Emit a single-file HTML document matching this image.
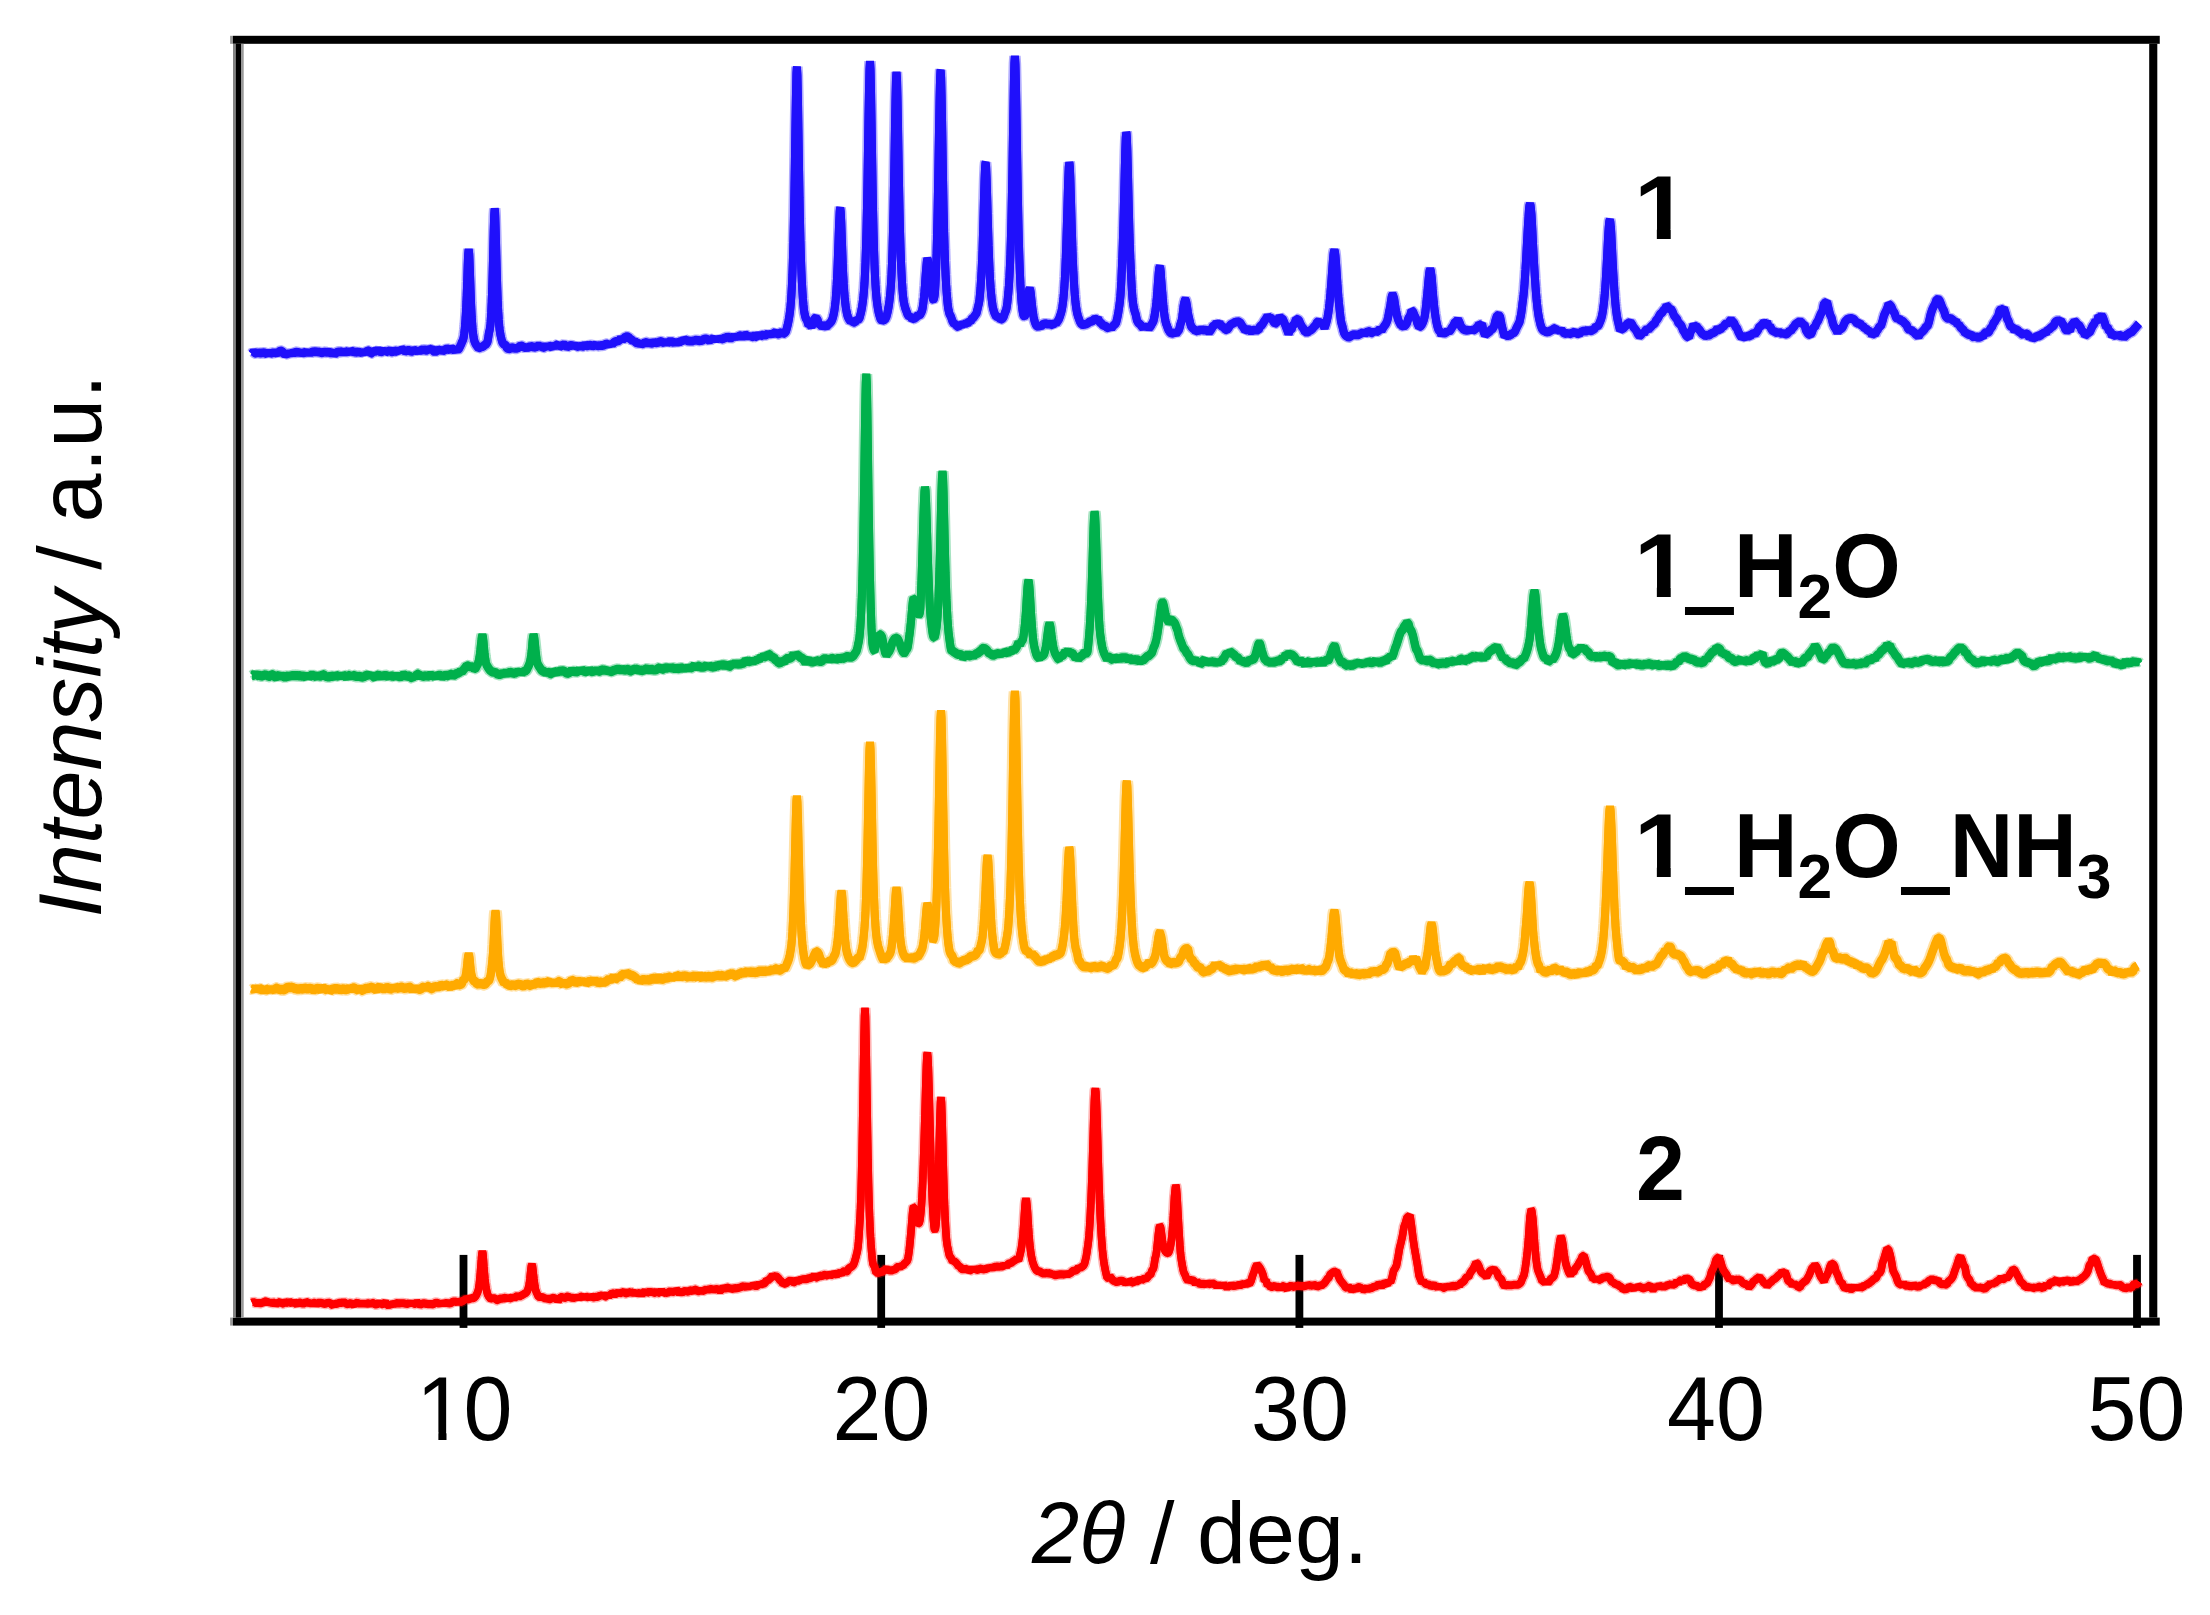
<!DOCTYPE html>
<html lang="en"><head><meta charset="utf-8"><title>XRD patterns</title>
<style>
html,body{margin:0;padding:0;background:#fff;}
body{position:relative;width:2210px;height:1615px;overflow:hidden;}
svg{position:absolute;left:0;top:0;display:block;}
.t{position:absolute;margin:0;padding:0;white-space:nowrap;line-height:1;color:#000;
   font-family:"Liberation Sans",Arial,Helvetica,sans-serif;font-weight:normal;}
.t i{font-style:italic;}
.b{font-weight:bold;}
.sub{display:inline-block;font-size:0.71em;line-height:1;vertical-align:baseline;position:relative;top:0.315em;transform-origin:0 84.52%;transform:scaleY(0.965);}
.u{display:inline-block;transform-origin:50% 94.8%;transform:translateY(0.053em) scale(0.97,2.3);}
.one{display:inline-block;position:relative;left:0.02em;clip-path:polygon(0 0,100% 0,100% 75.8%,61.6% 75.8%,61.6% 100%,45% 100%,45% 75.8%,0 75.8%);}
.bone{display:inline-block;position:relative;left:0.028em;transform-origin:66.5% 84.52%;transform:scale(1.12,1);clip-path:polygon(0 0,100% 0,100% 73.2%,66.8% 73.2%,66.8% 100%,41.5% 100%,41.5% 73.2%,0 73.2%);}
</style></head><body>
<svg width="2210" height="1615" viewBox="0 0 2210 1615">
<rect x="0" y="0" width="2210" height="1615" fill="#fff"/>
<g id="frame">
<rect x="230.1" y="35.8" width="2.8" height="8" fill="#999"/>
<rect x="232.9" y="35.8" width="1926.85" height="8" fill="#000"/>
<rect x="230.1" y="1317.6" width="2.8" height="8" fill="#999"/>
<rect x="232.9" y="1317.6" width="1926.85" height="8" fill="#000"/>
<rect x="233" y="43.8" width="2.7" height="1273.8" fill="#858585"/>
<rect x="235.7" y="43.8" width="5.3" height="1273.8" fill="#000"/>
<rect x="241" y="43.8" width="2.7" height="1273.8" fill="#999"/>
<rect x="2149.2" y="43.8" width="8.1" height="1273.8" fill="#000"/>
<rect x="459.6" y="1254.9" width="7.8" height="73" fill="#000"/><rect x="877.3" y="1254.9" width="7.8" height="73" fill="#000"/><rect x="1295.5" y="1254.9" width="7.8" height="73" fill="#000"/><rect x="1715.1" y="1254.9" width="7.8" height="73" fill="#000"/><rect x="2133.1" y="1254.9" width="7.8" height="73" fill="#000"/>
</g>
<g id="curves">
<defs><path id="c0" d="M252.0 353.6 L253.5 351.6 L255.0 353.0 L256.5 353.5 L258.0 352.3 L259.5 353.2 L261.0 353.0 L262.5 352.9 L264.0 352.7 L265.5 353.2 L267.0 353.9 L268.5 352.0 L270.0 353.7 L271.5 353.0 L273.0 353.2 L274.5 351.7 L276.0 352.9 L277.5 354.1 L279.0 351.7 L280.5 350.9 L282.0 351.1 L283.5 352.9 L285.0 354.8 L286.5 353.7 L288.0 354.1 L289.5 352.7 L291.0 353.9 L292.5 352.3 L294.0 353.1 L295.5 352.3 L297.0 352.0 L298.5 352.6 L300.0 352.1 L301.5 353.7 L303.0 352.6 L304.5 352.8 L306.0 352.1 L307.5 353.6 L309.0 351.8 L310.5 353.0 L312.0 352.1 L313.5 351.5 L315.0 351.9 L316.5 351.6 L318.0 352.1 L319.5 352.0 L321.0 352.6 L322.5 352.8 L324.0 352.1 L325.5 352.2 L327.0 352.5 L328.5 351.7 L330.0 352.8 L331.5 352.9 L333.0 352.4 L334.5 354.3 L336.0 353.0 L337.5 352.0 L339.0 351.8 L340.5 351.9 L342.0 351.6 L343.5 353.1 L345.0 351.4 L346.5 352.0 L348.0 351.5 L349.5 352.9 L351.0 350.7 L352.5 351.6 L354.0 351.8 L355.5 352.2 L357.0 352.3 L358.5 351.6 L360.0 352.7 L361.5 352.1 L363.0 354.0 L364.5 350.4 L366.0 352.3 L367.5 350.7 L369.0 350.9 L370.5 353.4 L372.0 353.1 L373.5 349.9 L375.0 351.3 L376.5 351.4 L378.0 349.5 L379.5 351.4 L381.0 351.8 L382.5 351.6 L384.0 349.5 L385.5 352.3 L387.0 351.5 L388.5 351.2 L390.0 350.5 L391.5 351.8 L393.0 352.0 L394.5 350.7 L396.0 351.2 L397.5 351.8 L399.0 349.3 L400.5 351.1 L402.0 349.2 L403.5 350.1 L405.0 351.3 L406.5 350.7 L408.0 350.4 L409.5 350.5 L411.0 351.4 L412.5 351.3 L414.0 349.9 L415.5 350.8 L417.0 350.1 L418.5 352.6 L420.0 349.7 L421.5 350.1 L423.0 350.0 L424.5 349.8 L426.0 350.3 L427.5 350.4 L429.0 348.6 L430.5 349.5 L432.0 348.7 L433.5 351.0 L435.0 352.0 L436.5 351.0 L438.0 349.9 L439.5 350.5 L441.0 349.7 L442.5 351.1 L444.0 350.3 L445.5 349.5 L447.0 348.7 L448.5 349.2 L450.0 350.0 L451.5 348.5 L453.0 349.3 L454.5 350.4 L456.0 348.9 L457.5 350.0 L459.0 348.6 L459.7 347.3 L460.2 346.2 L460.5 345.5 L460.7 345.1 L461.2 344.0 L461.7 342.8 L462.0 342.0 L462.2 341.6 L462.7 340.6 L463.2 339.2 L463.5 338.1 L463.7 337.1 L464.2 333.9 L464.7 329.6 L465.0 326.4 L465.2 324.1 L465.7 317.0 L466.2 307.7 L466.5 300.9 L466.7 295.9 L467.2 282.0 L467.7 266.2 L468.0 258.3 L468.2 254.0 L468.7 249.2 L469.2 254.0 L469.5 260.7 L469.7 266.2 L470.2 280.4 L470.7 294.9 L471.0 302.6 L471.2 307.2 L471.7 317.0 L472.2 324.6 L472.5 328.2 L472.7 330.3 L473.2 334.7 L473.7 338.0 L474.0 339.6 L474.2 340.3 L474.7 341.9 L475.2 343.1 L475.5 343.7 L475.7 344.1 L476.2 344.9 L476.7 345.6 L477.0 346.0 L477.2 346.3 L477.7 347.0 L478.5 347.9 L480.0 347.6 L481.5 346.9 L483.0 346.7 L484.5 345.0 L485.7 344.6 L486.0 344.3 L486.2 344.1 L486.7 343.3 L487.2 342.3 L487.5 341.7 L487.7 340.6 L488.2 337.8 L488.7 334.6 L489.0 332.5 L489.2 331.9 L489.7 329.8 L490.2 326.6 L490.5 324.0 L490.7 321.3 L491.2 313.1 L491.7 302.3 L492.0 294.4 L492.2 288.6 L492.7 272.0 L493.2 252.5 L493.5 239.7 L493.7 231.7 L494.2 215.2 L494.7 208.7 L495.0 211.1 L495.2 215.2 L495.7 231.7 L496.2 250.6 L496.5 262.2 L496.7 269.9 L497.2 287.0 L497.7 300.8 L498.0 307.6 L498.2 311.5 L498.7 319.6 L499.2 325.8 L499.5 328.8 L499.7 330.3 L500.2 333.5 L500.7 336.0 L501.0 337.2 L501.2 338.1 L501.7 340.0 L502.2 341.7 L502.5 342.6 L502.7 342.9 L503.2 343.6 L503.7 344.1 L504.0 344.4 L505.5 344.9 L507.0 348.1 L508.5 348.9 L510.0 348.6 L511.5 347.5 L513.0 347.8 L514.5 348.4 L516.0 348.3 L517.5 348.4 L519.0 347.0 L520.5 345.7 L522.0 346.1 L523.5 347.2 L525.0 347.4 L526.5 348.8 L528.0 346.9 L529.5 347.0 L531.0 346.6 L532.5 346.4 L534.0 347.4 L535.5 347.0 L537.0 346.5 L538.5 345.6 L540.0 346.5 L541.5 346.2 L543.0 347.6 L544.5 347.3 L546.0 345.5 L547.5 347.4 L549.0 345.8 L550.5 346.4 L552.0 347.3 L553.5 345.3 L555.0 346.3 L556.5 345.1 L558.0 344.3 L559.5 346.9 L561.0 346.0 L562.5 345.2 L564.0 344.5 L565.5 345.6 L567.0 347.1 L568.5 346.3 L570.0 345.6 L571.5 345.3 L573.0 346.0 L574.5 344.4 L576.0 347.0 L577.5 346.3 L579.0 346.9 L580.5 345.3 L582.0 346.5 L583.5 346.3 L585.0 344.3 L586.5 345.8 L588.0 345.9 L589.5 345.1 L591.0 345.3 L592.5 346.0 L594.0 345.5 L595.5 344.7 L597.0 346.1 L598.5 345.7 L600.0 345.7 L601.5 345.4 L603.0 345.6 L604.5 344.8 L606.0 344.1 L607.5 344.0 L609.0 345.5 L610.5 342.6 L612.0 344.7 L613.5 342.8 L615.0 341.8 L616.5 341.3 L618.0 340.9 L619.5 340.7 L621.0 337.5 L622.5 339.8 L624.0 338.5 L625.5 336.6 L627.0 336.7 L628.5 336.9 L630.0 339.0 L631.5 339.4 L633.0 341.6 L634.5 340.6 L636.0 342.7 L637.5 343.1 L639.0 342.7 L640.5 345.1 L642.0 343.6 L643.5 343.8 L645.0 342.2 L646.5 342.5 L648.0 343.2 L649.5 342.5 L651.0 343.5 L652.5 343.2 L654.0 342.1 L655.5 342.9 L657.0 342.6 L658.5 342.4 L660.0 341.4 L661.5 341.6 L663.0 342.4 L664.5 343.1 L666.0 341.2 L667.5 343.1 L669.0 342.0 L670.5 340.7 L672.0 342.0 L673.5 342.4 L675.0 341.8 L676.5 343.5 L678.0 341.6 L679.5 342.1 L681.0 341.2 L682.5 342.0 L684.0 338.8 L685.5 340.1 L687.0 340.5 L688.5 341.2 L690.0 340.8 L691.5 341.5 L693.0 340.8 L694.5 340.5 L696.0 340.1 L697.5 340.3 L699.0 340.8 L700.5 340.6 L702.0 340.6 L703.5 339.5 L705.0 339.0 L706.5 339.0 L708.0 339.7 L709.5 340.7 L711.0 339.3 L712.5 339.4 L714.0 337.3 L715.5 341.1 L717.0 337.6 L718.5 340.1 L720.0 337.8 L721.5 339.1 L723.0 338.8 L724.5 338.0 L726.0 337.7 L727.5 336.8 L729.0 337.5 L730.5 338.4 L732.0 337.6 L733.5 336.3 L735.0 338.0 L736.5 335.8 L738.0 336.9 L739.5 335.7 L741.0 335.7 L742.5 337.3 L744.0 335.9 L745.5 334.8 L747.0 335.6 L748.5 336.7 L750.0 335.3 L751.5 336.9 L753.0 336.6 L754.5 335.7 L756.0 336.6 L757.5 337.1 L759.0 333.5 L760.5 336.1 L762.0 335.5 L763.5 334.5 L765.0 335.2 L766.5 334.7 L768.0 333.6 L769.5 335.2 L771.0 333.6 L772.5 334.2 L774.0 333.1 L775.5 332.3 L777.0 334.3 L778.5 334.0 L780.0 333.0 L781.5 332.4 L783.0 333.8 L784.5 333.2 L786.0 331.3 L787.5 325.8 L787.9 324.1 L788.4 321.7 L788.9 318.9 L789.0 318.3 L789.4 315.8 L789.9 312.1 L790.4 307.6 L790.5 306.6 L790.9 301.9 L791.4 294.8 L791.9 285.9 L792.0 283.8 L792.4 274.7 L792.9 260.7 L793.4 243.0 L793.5 239.0 L793.9 220.7 L794.4 193.8 L794.9 162.9 L795.0 156.3 L795.4 129.8 L795.9 99.1 L796.4 75.7 L796.5 72.6 L796.9 66.8 L797.4 75.4 L797.9 98.5 L798.0 104.3 L798.4 129.4 L798.9 162.1 L799.4 192.5 L799.5 198.1 L799.9 218.5 L800.4 240.2 L800.9 257.6 L801.0 260.6 L801.4 271.6 L801.9 282.7 L802.4 291.4 L802.5 292.9 L802.9 298.7 L803.4 304.7 L803.9 309.6 L804.0 310.4 L804.4 312.8 L804.9 315.2 L805.4 317.2 L805.5 317.5 L805.9 318.5 L807.0 320.3 L808.5 325.2 L810.0 324.6 L811.5 326.9 L813.0 323.1 L814.5 318.6 L816.0 317.7 L817.5 319.7 L819.0 325.4 L820.5 324.9 L822.0 326.6 L823.5 325.5 L825.0 325.8 L826.5 326.5 L828.0 324.9 L829.5 323.5 L831.0 321.9 L831.2 321.6 L831.7 320.7 L832.2 319.5 L832.5 318.8 L832.7 318.1 L833.2 316.3 L833.7 314.2 L834.0 312.6 L834.2 311.6 L834.7 308.4 L835.2 304.5 L835.5 301.6 L835.7 299.4 L836.2 292.8 L836.7 284.6 L837.0 278.9 L837.2 274.8 L837.7 263.2 L838.2 249.9 L838.5 241.4 L838.7 235.6 L839.2 221.8 L839.7 211.8 L840.0 208.6 L840.2 208.0 L840.7 211.7 L841.2 221.6 L841.5 229.9 L841.7 235.6 L842.2 249.9 L842.7 263.4 L843.0 270.7 L843.2 274.9 L843.7 284.1 L844.2 291.5 L844.5 295.2 L844.7 297.5 L845.2 302.5 L845.7 306.4 L846.0 308.3 L846.2 309.5 L846.7 312.3 L847.2 314.6 L847.5 315.7 L847.7 316.3 L848.2 317.6 L848.7 318.6 L849.0 319.2 L849.2 319.5 L850.5 321.5 L852.0 320.8 L853.5 322.4 L855.0 322.4 L856.5 319.7 L858.0 320.0 L859.5 318.1 L861.0 312.4 L861.5 310.0 L862.0 307.2 L862.5 303.8 L863.0 300.2 L863.5 295.7 L864.0 290.1 L864.5 283.0 L865.0 273.9 L865.5 262.5 L866.0 247.8 L866.5 229.6 L867.0 207.4 L867.5 180.5 L868.0 150.0 L868.5 117.7 L869.0 91.1 L869.5 69.4 L870.0 61.4 L870.5 69.6 L871.0 91.4 L871.5 120.5 L872.0 152.2 L872.5 182.2 L873.0 208.5 L873.5 231.0 L874.0 249.5 L874.5 264.5 L875.0 276.0 L875.5 285.1 L876.0 292.2 L876.5 297.9 L877.0 302.3 L877.5 305.9 L878.0 309.1 L878.5 311.7 L879.0 314.0 L880.5 319.0 L882.0 320.8 L883.5 320.1 L885.0 319.6 L886.5 316.5 L887.5 312.5 L888.0 310.1 L888.5 307.4 L889.0 304.2 L889.5 300.3 L890.0 296.1 L890.5 290.8 L891.0 284.0 L891.5 275.0 L892.0 263.7 L892.5 249.7 L893.0 231.9 L893.5 210.4 L894.0 185.2 L894.5 157.0 L895.0 127.3 L895.5 100.1 L896.0 79.8 L896.5 72.2 L897.0 79.6 L897.5 99.6 L898.0 127.3 L898.5 156.6 L899.0 184.9 L899.5 210.0 L900.0 231.3 L900.5 248.3 L901.0 262.0 L901.5 272.9 L902.0 282.3 L902.5 289.9 L903.0 296.0 L903.5 299.9 L904.0 302.9 L904.5 305.2 L905.0 307.2 L905.5 308.8 L906.0 310.0 L907.5 314.3 L909.0 316.5 L910.5 316.3 L912.0 319.1 L913.5 318.6 L915.0 318.2 L916.5 316.9 L918.0 315.0 L918.4 315.2 L918.9 315.4 L919.4 315.4 L919.5 315.4 L919.9 314.9 L920.4 314.2 L920.9 313.2 L921.0 312.9 L921.4 312.3 L921.9 311.0 L922.4 309.2 L922.5 308.7 L922.9 306.2 L923.4 302.4 L923.9 297.8 L924.0 296.8 L924.4 292.4 L924.9 286.1 L925.4 279.0 L925.5 277.6 L925.9 272.1 L926.4 266.2 L926.9 261.0 L927.0 260.3 L927.4 258.8 L927.9 260.0 L928.4 264.1 L928.5 265.2 L928.9 270.2 L929.4 276.4 L929.9 282.2 L930.0 283.3 L930.4 286.9 L930.9 290.4 L931.4 292.8 L931.5 293.1 L931.6 293.6 L931.9 294.5 L932.1 295.0 L932.4 296.4 L932.6 297.6 L932.9 298.9 L933.0 299.3 L933.1 299.4 L933.4 299.5 L933.6 299.3 L933.9 298.7 L934.1 298.0 L934.4 296.5 L934.5 295.8 L934.6 295.4 L934.9 292.9 L935.1 289.9 L935.4 284.8 L935.6 280.9 L935.9 274.4 L936.0 272.0 L936.1 269.2 L936.4 260.2 L936.6 253.6 L937.1 234.5 L937.5 216.4 L937.6 211.7 L938.1 185.7 L938.6 156.5 L939.0 132.1 L939.1 126.1 L939.6 98.5 L940.1 77.9 L940.5 70.5 L940.6 70.1 L941.1 77.4 L941.6 97.4 L942.0 119.0 L942.1 124.9 L942.6 155.5 L943.1 184.8 L943.5 206.0 L943.6 210.7 L944.1 231.9 L944.6 249.3 L945.0 260.8 L945.1 263.5 L945.6 275.1 L946.1 284.3 L946.5 290.2 L946.6 291.7 L947.1 298.1 L947.6 303.4 L948.0 306.9 L948.1 307.6 L948.6 310.3 L949.1 312.5 L949.5 313.9 L949.6 314.2 L951.0 316.8 L952.5 321.3 L954.0 323.8 L955.5 323.9 L957.0 326.4 L958.5 326.7 L960.0 324.8 L961.5 326.0 L963.0 323.0 L964.5 324.6 L966.0 323.1 L967.5 323.8 L969.0 321.1 L970.5 321.5 L972.0 318.5 L973.5 317.6 L975.0 315.4 L976.5 313.3 L976.6 312.9 L977.1 311.0 L977.6 308.8 L978.0 306.8 L978.1 306.5 L978.6 304.6 L979.1 302.1 L979.5 299.6 L979.6 298.6 L980.1 293.4 L980.6 287.0 L981.0 280.8 L981.1 279.4 L981.6 271.0 L982.1 260.7 L982.5 250.8 L982.6 247.8 L983.1 231.5 L983.6 213.4 L984.0 198.5 L984.1 194.9 L984.6 178.8 L985.1 167.0 L985.5 162.9 L985.6 162.7 L986.1 167.1 L986.6 178.9 L987.0 192.3 L987.1 195.7 L987.6 213.2 L988.1 230.2 L988.5 242.5 L988.6 245.6 L989.1 259.5 L989.6 271.2 L990.0 279.1 L990.1 280.7 L990.6 287.9 L991.1 293.6 L991.5 297.3 L991.6 298.3 L992.1 302.4 L992.6 305.8 L993.0 308.1 L993.1 308.5 L993.6 310.4 L994.1 312.0 L994.5 313.0 L994.6 313.3 L996.0 316.4 L997.5 316.9 L999.0 317.5 L1000.5 319.4 L1002.0 319.0 L1003.5 317.1 L1005.0 312.6 L1005.9 310.6 L1006.4 308.9 L1006.5 308.5 L1006.9 305.9 L1007.4 302.1 L1007.9 297.4 L1008.0 296.3 L1008.4 292.1 L1008.9 285.6 L1009.4 277.4 L1009.5 275.6 L1009.9 267.4 L1010.4 254.9 L1010.9 239.5 L1011.0 236.0 L1011.4 220.0 L1011.9 196.7 L1012.4 169.8 L1012.5 164.0 L1012.9 140.4 L1013.4 110.2 L1013.9 82.8 L1014.0 78.1 L1014.4 63.2 L1014.9 56.2 L1015.4 63.8 L1015.5 67.0 L1015.9 84.1 L1016.4 111.7 L1016.9 142.4 L1017.0 148.6 L1017.4 172.4 L1017.9 199.6 L1018.4 223.1 L1018.5 227.3 L1018.9 243.0 L1019.4 259.5 L1019.9 273.0 L1020.0 275.3 L1020.4 283.9 L1020.7 289.4 L1020.9 292.7 L1021.2 297.2 L1021.4 299.8 L1021.5 301.0 L1021.7 303.2 L1021.9 305.2 L1022.2 307.9 L1022.4 309.5 L1022.7 311.5 L1022.9 312.7 L1023.0 313.3 L1023.2 314.2 L1023.4 315.1 L1023.7 315.8 L1023.9 316.0 L1024.2 316.1 L1024.5 315.9 L1024.7 315.9 L1025.2 315.4 L1025.7 314.2 L1026.0 313.1 L1026.2 312.1 L1026.7 309.1 L1027.2 305.3 L1027.5 302.7 L1027.7 301.0 L1028.2 296.6 L1028.7 292.5 L1029.0 290.5 L1029.2 289.5 L1029.7 288.5 L1030.2 289.8 L1030.5 291.5 L1030.7 293.0 L1031.2 297.8 L1031.7 302.6 L1032.0 305.4 L1032.2 307.1 L1032.7 311.0 L1033.2 314.3 L1033.5 316.0 L1033.7 317.1 L1034.2 319.6 L1034.7 321.5 L1035.0 322.4 L1035.2 323.0 L1035.7 324.3 L1036.2 325.2 L1036.5 325.7 L1036.7 325.8 L1037.2 326.2 L1037.7 326.4 L1038.0 326.5 L1038.2 326.4 L1038.7 326.2 L1039.5 325.8 L1041.0 326.4 L1042.5 324.7 L1044.0 323.8 L1045.5 323.6 L1047.0 324.0 L1048.5 324.1 L1050.0 324.2 L1051.5 324.6 L1053.0 325.1 L1054.5 322.4 L1056.0 323.5 L1057.5 321.5 L1059.0 319.0 L1060.3 315.3 L1060.5 314.6 L1060.8 313.7 L1061.3 311.9 L1061.8 309.7 L1062.0 308.7 L1062.3 307.0 L1062.8 303.6 L1063.3 299.5 L1063.5 297.6 L1063.8 294.3 L1064.3 287.8 L1064.8 279.9 L1065.0 276.2 L1065.3 270.0 L1065.8 258.0 L1066.3 244.0 L1066.5 237.8 L1066.8 228.3 L1067.3 211.4 L1067.8 194.2 L1068.0 187.7 L1068.3 178.0 L1068.8 166.8 L1069.3 162.7 L1069.5 163.4 L1069.8 166.9 L1070.3 178.2 L1070.8 194.9 L1071.0 201.9 L1071.3 212.5 L1071.8 229.7 L1072.3 245.5 L1072.5 251.3 L1072.8 259.1 L1073.3 270.5 L1073.8 279.9 L1074.0 283.2 L1074.3 288.0 L1074.8 294.7 L1075.3 300.3 L1075.5 302.2 L1075.8 304.8 L1076.3 308.4 L1076.8 311.3 L1077.0 312.4 L1077.3 313.7 L1077.8 315.5 L1078.3 317.1 L1078.5 317.6 L1080.0 321.9 L1081.5 324.4 L1083.0 324.7 L1084.5 324.5 L1086.0 324.1 L1087.5 323.5 L1089.0 322.3 L1090.5 321.5 L1092.0 321.4 L1093.5 319.9 L1095.0 318.6 L1096.5 319.4 L1098.0 318.2 L1099.5 322.3 L1101.0 322.9 L1102.5 324.8 L1104.0 325.7 L1105.5 326.0 L1107.0 327.6 L1108.5 328.0 L1110.0 326.4 L1111.5 328.2 L1113.0 326.1 L1114.5 324.6 L1116.0 323.2 L1117.3 317.8 L1117.5 316.8 L1117.8 315.3 L1118.3 312.6 L1118.8 309.4 L1119.0 308.0 L1119.3 306.1 L1119.8 302.2 L1120.3 297.3 L1120.5 295.1 L1120.8 290.4 L1121.3 281.3 L1121.8 270.4 L1122.0 265.5 L1122.3 258.2 L1122.8 244.2 L1123.3 227.8 L1123.5 220.6 L1123.8 209.4 L1124.3 189.5 L1124.8 169.4 L1125.0 161.9 L1125.3 150.3 L1125.8 137.3 L1126.3 132.5 L1126.5 133.2 L1126.8 137.1 L1127.3 150.0 L1127.8 168.6 L1128.0 176.3 L1128.3 188.9 L1128.8 209.4 L1129.3 228.5 L1129.5 235.4 L1129.8 244.7 L1130.3 258.3 L1130.8 269.6 L1131.0 273.6 L1131.3 279.8 L1131.8 288.8 L1132.3 296.3 L1132.5 298.9 L1132.8 301.5 L1133.3 305.1 L1133.8 307.8 L1134.0 308.7 L1134.3 310.0 L1134.8 311.8 L1135.3 313.2 L1135.5 313.6 L1137.0 320.5 L1138.5 323.2 L1140.0 324.1 L1141.5 326.2 L1143.0 327.9 L1144.5 325.8 L1146.0 327.5 L1147.5 326.2 L1149.0 328.2 L1150.5 326.5 L1150.8 326.0 L1151.3 325.1 L1151.8 324.1 L1152.0 323.7 L1152.3 323.3 L1152.8 322.4 L1153.3 321.3 L1153.5 320.8 L1153.8 319.6 L1154.3 317.3 L1154.8 314.4 L1155.0 313.1 L1155.3 311.3 L1155.8 307.7 L1156.3 303.4 L1156.5 301.4 L1156.8 298.0 L1157.3 291.6 L1157.8 284.8 L1158.0 282.0 L1158.3 278.3 L1158.8 272.2 L1159.3 268.1 L1159.5 267.2 L1159.8 266.7 L1160.3 268.3 L1160.8 272.7 L1161.0 277.4 L1161.3 280.8 L1161.8 286.9 L1162.3 293.1 L1162.5 295.5 L1162.8 299.3 L1163.3 305.1 L1163.8 310.2 L1164.0 312.0 L1164.3 314.3 L1164.8 317.6 L1165.3 320.3 L1165.5 321.3 L1165.8 322.5 L1166.3 324.2 L1166.8 325.5 L1167.0 325.9 L1167.3 326.9 L1167.8 328.3 L1168.3 329.5 L1168.5 330.0 L1168.8 330.5 L1170.0 332.3 L1171.5 333.5 L1173.0 333.2 L1174.5 332.6 L1176.0 333.7 L1176.3 333.3 L1176.8 332.7 L1177.3 332.0 L1177.5 331.6 L1177.8 331.4 L1178.3 330.8 L1178.8 330.1 L1179.0 329.8 L1179.3 328.8 L1179.8 327.0 L1180.3 324.9 L1180.5 324.0 L1180.8 323.2 L1181.3 321.7 L1181.8 319.9 L1182.0 319.0 L1182.3 316.7 L1182.8 312.6 L1183.3 308.3 L1183.5 306.5 L1183.8 304.8 L1184.3 302.7 L1184.8 300.5 L1185.0 300.0 L1185.3 299.7 L1185.8 300.4 L1186.3 302.4 L1186.5 303.5 L1186.8 305.3 L1187.3 308.6 L1187.8 311.9 L1188.0 313.2 L1188.3 314.9 L1188.8 317.4 L1189.3 319.6 L1189.5 320.3 L1189.8 321.7 L1190.3 323.7 L1190.8 325.4 L1191.0 326.1 L1191.3 326.6 L1191.8 327.3 L1192.3 327.9 L1192.5 328.1 L1192.8 328.3 L1193.3 328.6 L1193.8 328.9 L1194.0 328.9 L1194.3 329.4 L1195.5 331.2 L1197.0 330.8 L1198.5 330.4 L1200.0 330.4 L1201.5 328.8 L1203.0 330.1 L1204.5 330.2 L1206.0 330.0 L1207.5 330.6 L1209.0 332.3 L1210.5 330.5 L1212.0 328.0 L1213.5 325.4 L1215.0 325.4 L1216.5 322.5 L1218.0 324.2 L1219.5 322.9 L1221.0 325.7 L1222.5 326.5 L1224.0 327.8 L1225.5 329.6 L1227.0 329.8 L1228.5 328.0 L1230.0 325.4 L1231.5 323.9 L1233.0 323.7 L1234.5 322.4 L1236.0 322.1 L1237.5 321.4 L1239.0 321.9 L1240.5 323.1 L1242.0 325.8 L1243.5 327.6 L1245.0 330.3 L1246.5 329.8 L1248.0 329.0 L1249.5 330.2 L1251.0 331.4 L1252.5 330.2 L1254.0 330.4 L1255.5 329.8 L1257.0 330.1 L1258.5 330.1 L1260.0 326.3 L1261.5 325.5 L1263.0 323.3 L1264.5 320.8 L1266.0 318.8 L1267.5 315.9 L1269.0 317.7 L1270.5 318.0 L1272.0 318.8 L1273.5 321.7 L1275.0 323.4 L1276.5 323.1 L1278.0 319.7 L1279.5 316.7 L1281.0 318.3 L1282.5 318.6 L1284.0 321.8 L1285.5 325.6 L1287.0 329.6 L1288.5 333.9 L1290.0 330.0 L1291.5 329.6 L1293.0 324.9 L1294.5 323.9 L1296.0 319.1 L1297.5 319.3 L1299.0 320.4 L1300.5 324.1 L1302.0 326.8 L1303.5 328.7 L1305.0 332.0 L1306.5 332.1 L1308.0 332.0 L1309.5 330.7 L1311.0 330.0 L1312.5 328.8 L1314.0 326.8 L1315.5 325.6 L1317.0 322.3 L1318.5 321.4 L1320.0 322.9 L1321.5 323.0 L1323.0 324.6 L1324.5 328.0 L1325.4 325.5 L1325.9 323.9 L1326.0 323.6 L1326.4 322.2 L1326.9 320.3 L1327.4 318.0 L1327.5 317.5 L1327.9 315.4 L1328.4 312.4 L1328.9 308.9 L1329.0 308.1 L1329.4 304.4 L1329.9 299.2 L1330.4 293.4 L1330.5 292.1 L1330.9 287.5 L1331.4 281.1 L1331.9 274.4 L1332.0 273.0 L1332.4 267.4 L1332.9 261.0 L1333.4 255.0 L1333.5 254.1 L1333.9 251.4 L1334.4 250.2 L1334.9 251.7 L1335.0 252.3 L1335.4 255.6 L1335.9 261.4 L1336.4 268.9 L1336.5 270.4 L1336.9 276.5 L1337.4 283.9 L1337.9 291.0 L1338.0 292.3 L1338.4 297.2 L1338.9 302.7 L1339.4 307.5 L1339.5 308.4 L1339.9 312.3 L1340.4 316.7 L1340.9 320.6 L1341.0 321.3 L1341.4 323.0 L1341.9 324.9 L1342.4 326.4 L1342.5 326.7 L1342.9 328.5 L1343.4 330.6 L1344.0 332.8 L1345.5 335.5 L1347.0 336.4 L1348.5 337.2 L1350.0 337.0 L1351.5 334.8 L1353.0 335.0 L1354.5 334.6 L1356.0 334.8 L1357.5 335.0 L1359.0 334.5 L1360.5 333.6 L1362.0 333.1 L1363.5 331.9 L1365.0 333.7 L1366.5 332.6 L1368.0 331.2 L1369.5 331.5 L1371.0 332.9 L1372.5 332.8 L1374.0 330.4 L1375.5 332.8 L1377.0 331.4 L1378.5 330.7 L1380.0 328.6 L1381.5 330.9 L1383.0 327.9 L1383.6 327.1 L1384.1 326.4 L1384.5 325.7 L1384.6 325.6 L1385.1 325.0 L1385.6 324.3 L1386.0 323.6 L1386.1 323.4 L1386.6 322.3 L1387.1 321.0 L1387.5 319.8 L1387.6 319.4 L1388.1 317.2 L1388.6 314.6 L1389.0 312.4 L1389.1 311.9 L1389.6 309.5 L1390.1 306.8 L1390.5 304.5 L1390.6 303.8 L1391.1 300.4 L1391.6 297.3 L1392.0 295.7 L1392.1 295.4 L1392.6 294.7 L1393.1 295.3 L1393.5 296.7 L1393.6 297.1 L1394.1 298.5 L1394.6 301.9 L1395.0 304.7 L1395.1 305.3 L1395.6 308.3 L1396.1 311.1 L1396.5 313.0 L1396.6 313.5 L1397.1 315.8 L1397.6 317.8 L1398.0 319.1 L1398.1 319.4 L1398.6 320.8 L1399.1 321.9 L1399.5 322.7 L1399.6 322.9 L1400.1 323.9 L1400.6 324.7 L1401.0 325.3 L1401.1 325.3 L1401.6 325.6 L1402.5 325.9 L1404.0 326.6 L1405.5 325.1 L1407.0 322.8 L1408.5 318.1 L1410.0 316.2 L1411.5 310.7 L1413.0 311.5 L1414.5 315.5 L1416.0 318.5 L1417.5 323.7 L1419.0 326.8 L1420.5 326.4 L1421.2 325.5 L1421.7 324.7 L1422.0 324.2 L1422.2 323.8 L1422.7 322.8 L1423.2 321.6 L1423.5 320.8 L1423.7 320.2 L1424.2 318.4 L1424.7 316.3 L1425.0 314.8 L1425.2 313.3 L1425.7 309.2 L1426.2 304.5 L1426.5 301.4 L1426.7 299.5 L1427.2 294.6 L1427.7 289.2 L1428.0 285.8 L1428.2 283.6 L1428.7 278.2 L1429.2 273.5 L1429.5 271.3 L1429.7 270.3 L1430.2 269.2 L1430.7 270.5 L1431.0 272.4 L1431.2 274.0 L1431.7 277.6 L1432.2 284.0 L1432.5 288.1 L1432.7 290.5 L1433.2 296.4 L1433.7 301.9 L1434.0 304.9 L1434.2 306.7 L1434.7 311.0 L1435.2 314.6 L1435.5 316.5 L1435.7 317.8 L1436.2 320.8 L1436.7 323.3 L1437.0 324.7 L1437.2 325.5 L1437.7 327.4 L1438.2 329.0 L1438.5 329.9 L1438.7 330.1 L1439.2 330.7 L1440.0 331.3 L1441.5 335.1 L1443.0 332.6 L1444.5 333.0 L1446.0 332.9 L1447.5 330.7 L1449.0 331.9 L1450.5 330.1 L1452.0 327.5 L1453.5 325.5 L1455.0 321.9 L1456.5 321.5 L1458.0 319.3 L1459.5 322.5 L1461.0 326.6 L1462.5 328.2 L1464.0 329.9 L1465.5 330.0 L1467.0 330.4 L1468.5 329.9 L1470.0 331.5 L1471.5 328.5 L1473.0 330.3 L1474.5 329.8 L1476.0 328.4 L1477.5 327.0 L1479.0 324.4 L1480.5 324.9 L1482.0 323.8 L1483.5 331.4 L1485.0 335.1 L1486.5 333.7 L1488.0 332.7 L1489.5 331.6 L1491.0 329.6 L1492.5 328.9 L1494.0 326.5 L1495.5 320.3 L1497.0 315.6 L1498.5 315.1 L1500.0 316.5 L1501.5 324.5 L1503.0 330.8 L1504.5 336.5 L1506.0 335.3 L1507.5 335.7 L1509.0 335.3 L1510.5 335.3 L1512.0 333.2 L1513.5 333.3 L1515.0 331.4 L1516.5 327.9 L1518.0 325.0 L1519.5 322.0 L1521.0 314.8 L1521.5 311.4 L1522.0 307.5 L1522.5 303.2 L1523.0 299.6 L1523.5 295.4 L1524.0 290.6 L1524.5 284.3 L1525.0 277.3 L1525.5 269.6 L1526.0 261.1 L1526.5 252.1 L1527.0 242.7 L1527.5 233.6 L1528.0 224.9 L1528.5 217.2 L1529.0 209.3 L1529.5 205.2 L1530.0 203.8 L1530.5 205.4 L1531.0 209.7 L1531.5 214.9 L1532.0 223.9 L1532.5 233.8 L1533.0 244.1 L1533.5 253.5 L1534.0 262.6 L1534.5 271.0 L1535.0 279.1 L1535.5 286.4 L1536.0 293.0 L1536.5 298.7 L1537.0 303.8 L1537.5 308.3 L1538.0 312.1 L1538.5 315.4 L1539.0 318.3 L1540.5 324.7 L1542.0 328.9 L1543.5 330.6 L1545.0 331.2 L1546.5 332.1 L1548.0 331.9 L1549.5 331.7 L1551.0 330.1 L1552.5 330.2 L1554.0 328.6 L1555.5 328.3 L1557.0 331.1 L1558.5 329.6 L1560.0 331.5 L1561.5 330.0 L1563.0 331.9 L1564.5 333.4 L1566.0 333.5 L1567.5 332.5 L1569.0 334.3 L1570.5 333.6 L1572.0 333.0 L1573.5 332.5 L1575.0 331.6 L1576.5 333.5 L1578.0 333.5 L1579.5 334.0 L1581.0 331.8 L1582.5 331.4 L1584.0 330.8 L1585.5 331.3 L1587.0 331.0 L1588.5 329.4 L1590.0 330.9 L1591.5 330.6 L1593.0 329.7 L1594.5 328.7 L1596.0 326.2 L1597.5 326.7 L1599.0 324.4 L1600.5 320.7 L1600.8 319.9 L1601.3 318.4 L1601.8 316.5 L1602.0 315.7 L1602.3 314.2 L1602.8 311.2 L1603.3 307.8 L1603.5 306.2 L1603.8 303.8 L1604.3 299.2 L1604.8 293.7 L1605.0 291.3 L1605.3 287.4 L1605.8 280.0 L1606.3 271.7 L1606.5 268.2 L1606.8 262.6 L1607.3 252.9 L1607.8 243.1 L1608.0 239.3 L1608.3 233.8 L1608.8 226.7 L1609.3 221.6 L1609.5 220.5 L1609.8 219.9 L1610.3 221.9 L1610.8 227.2 L1611.0 229.0 L1611.3 234.2 L1611.8 244.1 L1612.3 254.5 L1612.5 258.7 L1612.8 264.5 L1613.3 273.7 L1613.8 282.0 L1614.0 285.1 L1614.3 289.6 L1614.8 296.4 L1615.3 302.3 L1615.5 304.4 L1615.8 307.3 L1616.3 311.6 L1616.8 315.2 L1617.0 316.5 L1617.3 318.2 L1617.8 320.7 L1618.3 322.7 L1618.5 323.5 L1618.8 325.0 L1620.0 330.1 L1621.5 329.0 L1623.0 328.8 L1624.5 327.1 L1626.0 325.6 L1627.5 323.2 L1629.0 323.1 L1630.5 322.1 L1632.0 324.3 L1633.5 327.3 L1635.0 328.9 L1636.5 331.0 L1638.0 334.2 L1639.5 335.8 L1641.0 334.9 L1642.5 332.1 L1644.0 333.6 L1645.5 330.4 L1647.0 328.9 L1648.5 329.6 L1650.0 327.7 L1651.5 326.2 L1653.0 324.5 L1654.5 323.9 L1656.0 320.6 L1657.5 319.1 L1659.0 316.2 L1660.5 313.6 L1662.0 312.8 L1663.5 310.3 L1665.0 309.0 L1666.5 305.8 L1668.0 306.8 L1669.5 309.0 L1671.0 309.0 L1672.5 311.6 L1674.0 315.5 L1675.5 317.5 L1677.0 319.1 L1678.5 323.1 L1680.0 324.1 L1681.5 326.1 L1683.0 330.1 L1684.5 332.3 L1686.0 335.2 L1687.5 336.7 L1689.0 337.4 L1690.5 331.8 L1692.0 329.5 L1693.5 324.6 L1695.0 326.4 L1696.5 326.2 L1698.0 328.4 L1699.5 330.0 L1701.0 332.2 L1702.5 334.0 L1704.0 334.9 L1705.5 335.8 L1707.0 335.2 L1708.5 335.2 L1710.0 334.7 L1711.5 333.1 L1713.0 333.0 L1714.5 332.3 L1716.0 330.8 L1717.5 328.1 L1719.0 329.6 L1720.5 329.9 L1722.0 326.9 L1723.5 326.9 L1725.0 324.4 L1726.5 323.2 L1728.0 324.5 L1729.5 321.3 L1731.0 319.7 L1732.5 321.5 L1734.0 322.8 L1735.5 326.6 L1737.0 328.3 L1738.5 332.2 L1740.0 335.1 L1741.5 337.4 L1743.0 336.6 L1744.5 336.7 L1746.0 337.7 L1747.5 335.5 L1749.0 335.9 L1750.5 336.1 L1752.0 334.0 L1753.5 333.4 L1755.0 334.1 L1756.5 332.2 L1758.0 329.9 L1759.5 326.4 L1761.0 326.1 L1762.5 324.1 L1764.0 322.2 L1765.5 323.6 L1767.0 321.8 L1768.5 326.8 L1770.0 326.2 L1771.5 329.2 L1773.0 331.3 L1774.5 331.3 L1776.0 332.4 L1777.5 333.1 L1779.0 331.8 L1780.5 333.0 L1782.0 333.7 L1783.5 332.7 L1785.0 334.1 L1786.5 334.0 L1788.0 332.9 L1789.5 330.8 L1791.0 330.8 L1792.5 328.3 L1794.0 326.8 L1795.5 324.1 L1797.0 323.3 L1798.5 322.2 L1800.0 321.2 L1801.5 322.4 L1803.0 324.3 L1804.5 324.3 L1806.0 330.4 L1807.5 332.9 L1809.0 334.4 L1810.5 334.8 L1812.0 332.1 L1813.5 327.4 L1815.0 326.9 L1816.5 323.0 L1818.0 320.9 L1819.5 317.1 L1821.0 313.6 L1822.5 311.0 L1824.0 303.3 L1825.5 302.7 L1827.0 301.9 L1828.5 308.3 L1830.0 314.6 L1831.5 317.6 L1833.0 324.0 L1834.5 327.2 L1836.0 329.5 L1837.5 332.8 L1839.0 329.4 L1840.5 329.1 L1842.0 328.2 L1843.5 325.4 L1845.0 321.8 L1846.5 320.3 L1848.0 318.6 L1849.5 318.7 L1851.0 318.3 L1852.5 318.7 L1854.0 319.5 L1855.5 321.4 L1857.0 323.3 L1858.5 323.4 L1860.0 323.2 L1861.5 325.8 L1863.0 325.8 L1864.5 328.5 L1866.0 328.4 L1867.5 330.7 L1869.0 330.8 L1870.5 332.2 L1872.0 334.9 L1873.5 333.8 L1875.0 334.6 L1876.5 331.2 L1878.0 329.3 L1879.5 326.5 L1881.0 325.9 L1882.5 321.0 L1884.0 315.4 L1885.5 312.1 L1887.0 309.0 L1888.5 304.2 L1890.0 305.1 L1891.5 307.1 L1893.0 310.8 L1894.5 313.0 L1896.0 317.5 L1897.5 318.8 L1899.0 317.9 L1900.5 320.9 L1902.0 320.8 L1903.5 321.6 L1905.0 323.7 L1906.5 324.8 L1908.0 328.7 L1909.5 330.0 L1911.0 329.4 L1912.5 331.6 L1914.0 332.0 L1915.5 334.2 L1917.0 335.1 L1918.5 336.6 L1920.0 333.9 L1921.5 332.3 L1923.0 331.0 L1924.5 329.4 L1926.0 326.7 L1927.5 326.2 L1929.0 321.8 L1930.5 314.9 L1932.0 310.1 L1933.5 306.7 L1935.0 304.2 L1936.5 299.8 L1938.0 299.3 L1939.5 300.3 L1941.0 304.1 L1942.5 308.2 L1944.0 310.9 L1945.5 316.0 L1947.0 318.0 L1948.5 318.5 L1950.0 317.9 L1951.5 319.2 L1953.0 320.1 L1954.5 321.4 L1956.0 320.7 L1957.5 324.8 L1959.0 324.5 L1960.5 327.2 L1962.0 328.7 L1963.5 330.1 L1965.0 333.0 L1966.5 333.0 L1968.0 334.2 L1969.5 334.7 L1971.0 334.1 L1972.5 336.6 L1974.0 337.1 L1975.5 335.9 L1977.0 337.2 L1978.5 337.6 L1980.0 337.1 L1981.5 336.2 L1983.0 336.9 L1984.5 333.0 L1986.0 332.5 L1987.5 332.8 L1989.0 331.8 L1990.5 328.4 L1992.0 327.0 L1993.5 323.2 L1995.0 321.3 L1996.5 318.5 L1998.0 316.7 L1999.5 311.0 L2001.0 308.9 L2002.5 309.5 L2004.0 308.3 L2005.5 313.0 L2007.0 318.5 L2008.5 321.1 L2010.0 325.5 L2011.5 327.1 L2013.0 326.9 L2014.5 331.3 L2016.0 329.5 L2017.5 329.9 L2019.0 332.2 L2020.5 332.4 L2022.0 334.1 L2023.5 334.9 L2025.0 333.1 L2026.5 334.0 L2028.0 334.5 L2029.5 338.0 L2031.0 336.4 L2032.5 338.4 L2034.0 337.6 L2035.5 337.9 L2037.0 335.6 L2038.5 336.0 L2040.0 336.0 L2041.5 334.2 L2043.0 333.5 L2044.5 332.5 L2046.0 333.5 L2047.5 329.6 L2049.0 329.7 L2050.5 328.1 L2052.0 326.7 L2053.5 326.1 L2055.0 322.5 L2056.5 321.0 L2058.0 320.7 L2059.5 321.1 L2061.0 320.7 L2062.5 323.9 L2064.0 325.7 L2065.5 329.6 L2067.0 330.7 L2068.5 329.7 L2070.0 330.9 L2071.5 325.2 L2073.0 323.5 L2074.5 321.3 L2076.0 322.3 L2077.5 324.7 L2079.0 325.2 L2080.5 327.5 L2082.0 331.1 L2083.5 331.5 L2085.0 335.4 L2086.5 334.6 L2088.0 332.8 L2089.5 332.6 L2091.0 329.5 L2092.5 326.1 L2094.0 324.2 L2095.5 320.9 L2097.0 321.9 L2098.5 316.1 L2100.0 317.2 L2101.5 315.2 L2103.0 317.6 L2104.5 322.0 L2106.0 326.9 L2107.5 326.9 L2109.0 331.0 L2110.5 331.4 L2112.0 336.0 L2113.5 335.0 L2115.0 335.3 L2116.5 336.7 L2118.0 334.0 L2119.5 335.5 L2121.0 336.0 L2122.5 335.8 L2124.0 337.4 L2125.5 336.1 L2127.0 334.6 L2128.5 333.8 L2130.0 332.6 L2131.5 332.3 L2133.0 330.7 L2134.5 328.7 L2136.0 327.2 L2137.5 325.3 L2139.0 323.7"/></defs>
<g fill="none" stroke="#1f10fb" stroke-linejoin="bevel" stroke-linecap="butt"><use href="#c0" stroke-width="11.5" stroke-opacity="0.35"/><use href="#c0" y="-0.4" stroke-width="8.0"/><use href="#c0" y="0.4" stroke-width="8.0"/></g>
<defs><path id="c1" d="M252.0 675.4 L253.5 675.3 L255.0 673.3 L256.5 675.7 L258.0 675.4 L259.5 675.3 L261.0 676.0 L262.5 676.1 L264.0 674.8 L265.5 675.0 L267.0 675.4 L268.5 676.4 L270.0 676.3 L271.5 674.6 L273.0 674.8 L274.5 676.5 L276.0 677.3 L277.5 675.8 L279.0 675.3 L280.5 676.9 L282.0 675.6 L283.5 676.6 L285.0 677.3 L286.5 676.5 L288.0 676.0 L289.5 676.6 L291.0 675.4 L292.5 675.8 L294.0 675.4 L295.5 675.8 L297.0 675.5 L298.5 675.8 L300.0 675.7 L301.5 676.1 L303.0 676.1 L304.5 676.3 L306.0 677.3 L307.5 674.6 L309.0 677.2 L310.5 675.8 L312.0 674.9 L313.5 675.8 L315.0 676.1 L316.5 677.0 L318.0 675.0 L319.5 676.2 L321.0 676.1 L322.5 674.5 L324.0 674.9 L325.5 676.5 L327.0 676.6 L328.5 677.0 L330.0 676.5 L331.5 676.4 L333.0 676.1 L334.5 677.1 L336.0 675.2 L337.5 675.9 L339.0 676.4 L340.5 674.6 L342.0 677.2 L343.5 675.3 L345.0 675.9 L346.5 677.9 L348.0 675.3 L349.5 675.5 L351.0 677.4 L352.5 675.0 L354.0 675.6 L355.5 676.5 L357.0 676.4 L358.5 676.5 L360.0 676.3 L361.5 677.2 L363.0 676.9 L364.5 676.5 L366.0 675.4 L367.5 675.4 L369.0 674.3 L370.5 676.6 L372.0 674.4 L373.5 676.8 L375.0 677.7 L376.5 675.1 L378.0 675.4 L379.5 675.6 L381.0 676.8 L382.5 675.2 L384.0 675.9 L385.5 675.5 L387.0 675.8 L388.5 677.2 L390.0 675.1 L391.5 676.1 L393.0 676.2 L394.5 676.8 L396.0 674.9 L397.5 677.0 L399.0 676.4 L400.5 676.8 L402.0 676.0 L403.5 674.5 L405.0 675.4 L406.5 676.7 L408.0 676.0 L409.5 675.9 L411.0 677.5 L412.5 677.9 L414.0 675.8 L415.5 677.6 L417.0 674.0 L418.5 674.0 L420.0 676.6 L421.5 675.6 L423.0 676.3 L424.5 676.2 L426.0 675.7 L427.5 676.4 L429.0 675.9 L430.5 674.3 L432.0 675.9 L433.5 675.8 L435.0 677.3 L436.5 674.6 L438.0 675.6 L439.5 675.2 L441.0 675.5 L442.5 677.1 L444.0 675.9 L445.5 675.1 L447.0 675.6 L448.5 675.9 L450.0 674.0 L451.5 674.4 L453.0 675.8 L454.5 674.9 L456.0 673.8 L457.5 673.1 L459.0 673.1 L460.5 671.1 L462.0 671.9 L463.5 669.8 L465.0 668.1 L466.5 665.7 L468.0 665.9 L469.5 666.6 L471.0 666.8 L472.5 666.9 L473.4 667.9 L473.9 668.4 L474.0 668.5 L474.4 668.4 L474.9 668.4 L475.4 668.3 L475.5 668.2 L475.9 667.6 L476.4 666.7 L476.9 665.7 L477.0 665.4 L477.4 664.8 L477.9 663.9 L478.4 662.5 L478.5 662.2 L478.9 660.5 L479.4 657.9 L479.9 654.4 L480.0 653.6 L480.4 650.1 L480.9 645.0 L481.4 640.8 L481.5 639.8 L481.9 636.6 L482.4 635.0 L482.9 636.8 L483.0 637.5 L483.4 641.2 L483.9 647.1 L484.4 652.2 L484.5 653.2 L484.9 656.6 L485.4 660.1 L485.9 662.8 L486.0 663.2 L486.4 664.5 L486.9 665.7 L487.4 666.4 L487.5 666.5 L487.9 667.3 L488.4 668.1 L488.9 668.8 L489.0 668.9 L489.4 669.5 L489.9 670.2 L490.4 670.9 L490.5 671.1 L490.9 671.2 L491.4 671.4 L492.0 671.6 L493.5 672.5 L495.0 672.0 L496.5 673.3 L498.0 674.5 L499.5 674.3 L501.0 674.4 L502.5 673.1 L504.0 673.8 L505.5 672.7 L507.0 673.8 L508.5 672.6 L510.0 672.5 L511.5 672.3 L513.0 673.5 L514.5 673.0 L516.0 672.9 L517.5 671.6 L519.0 672.6 L520.5 671.0 L522.0 673.3 L523.5 671.5 L524.6 671.3 L525.0 671.2 L525.1 671.2 L525.6 670.8 L526.1 670.4 L526.5 670.0 L526.6 669.9 L527.1 669.0 L527.6 667.9 L528.0 667.0 L528.1 666.9 L528.6 666.0 L529.1 664.8 L529.5 663.6 L529.6 663.3 L530.1 661.5 L530.6 659.1 L531.0 656.6 L531.1 655.9 L531.6 651.9 L532.1 647.2 L532.5 641.9 L532.6 640.9 L533.1 636.7 L533.6 635.0 L534.0 636.1 L534.1 636.7 L534.6 640.9 L535.1 645.4 L535.5 649.7 L535.6 650.7 L536.1 655.4 L536.6 659.2 L537.0 661.7 L537.1 662.1 L537.6 663.8 L538.1 664.9 L538.5 665.5 L538.6 665.8 L539.1 666.7 L539.6 667.4 L540.0 667.9 L540.1 668.0 L540.6 668.9 L541.1 669.7 L541.5 670.2 L541.6 670.3 L542.1 670.7 L542.6 671.0 L543.0 671.2 L544.5 671.4 L546.0 673.4 L547.5 672.0 L549.0 672.6 L550.5 673.7 L552.0 673.9 L553.5 670.9 L555.0 672.0 L556.5 673.3 L558.0 671.0 L559.5 671.4 L561.0 671.0 L562.5 670.9 L564.0 671.1 L565.5 672.2 L567.0 673.2 L568.5 673.3 L570.0 671.9 L571.5 670.1 L573.0 671.8 L574.5 671.4 L576.0 672.0 L577.5 671.5 L579.0 670.0 L580.5 671.9 L582.0 669.6 L583.5 670.8 L585.0 671.6 L586.5 671.6 L588.0 672.6 L589.5 669.0 L591.0 671.4 L592.5 671.6 L594.0 670.7 L595.5 671.5 L597.0 669.8 L598.5 671.4 L600.0 671.2 L601.5 669.8 L603.0 670.0 L604.5 670.4 L606.0 669.9 L607.5 671.4 L609.0 670.6 L610.5 671.6 L612.0 671.4 L613.5 670.3 L615.0 670.1 L616.5 669.3 L618.0 669.4 L619.5 669.4 L621.0 670.3 L622.5 669.2 L624.0 670.0 L625.5 670.1 L627.0 669.4 L628.5 669.6 L630.0 671.0 L631.5 671.1 L633.0 668.9 L634.5 669.4 L636.0 669.2 L637.5 669.3 L639.0 670.8 L640.5 670.0 L642.0 670.5 L643.5 670.9 L645.0 668.9 L646.5 669.0 L648.0 669.2 L649.5 670.0 L651.0 669.0 L652.5 669.6 L654.0 670.0 L655.5 670.0 L657.0 669.3 L658.5 668.1 L660.0 667.4 L661.5 669.7 L663.0 669.1 L664.5 667.8 L666.0 668.1 L667.5 668.1 L669.0 667.0 L670.5 668.7 L672.0 667.7 L673.5 668.1 L675.0 668.9 L676.5 668.1 L678.0 668.6 L679.5 668.4 L681.0 668.0 L682.5 667.9 L684.0 669.5 L685.5 667.6 L687.0 669.1 L688.5 666.8 L690.0 668.2 L691.5 667.6 L693.0 666.7 L694.5 664.9 L696.0 668.6 L697.5 666.1 L699.0 666.2 L700.5 667.1 L702.0 667.0 L703.5 667.1 L705.0 666.5 L706.5 665.3 L708.0 667.4 L709.5 665.7 L711.0 666.7 L712.5 666.9 L714.0 667.4 L715.5 666.0 L717.0 665.9 L718.5 665.9 L720.0 664.3 L721.5 665.2 L723.0 664.9 L724.5 664.7 L726.0 665.6 L727.5 665.0 L729.0 666.5 L730.5 666.2 L732.0 662.9 L733.5 664.5 L735.0 663.3 L736.5 664.5 L738.0 663.9 L739.5 664.4 L741.0 663.6 L742.5 663.8 L744.0 662.6 L745.5 660.4 L747.0 661.4 L748.5 661.4 L750.0 661.6 L751.5 660.5 L753.0 662.3 L754.5 660.1 L756.0 660.9 L757.5 658.8 L759.0 660.1 L760.5 656.9 L762.0 658.0 L763.5 655.7 L765.0 656.7 L766.5 657.2 L768.0 654.0 L769.5 654.7 L771.0 656.6 L772.5 657.3 L774.0 657.3 L775.5 660.6 L777.0 660.7 L778.5 662.9 L780.0 663.0 L781.5 661.8 L783.0 661.4 L784.5 662.2 L786.0 658.7 L787.5 658.6 L789.0 658.5 L790.5 657.9 L792.0 656.8 L793.5 653.8 L795.0 656.4 L796.5 654.4 L798.0 655.4 L799.5 656.7 L801.0 657.8 L802.5 658.4 L804.0 660.3 L805.5 663.1 L807.0 660.6 L808.5 659.5 L810.0 662.0 L811.5 661.7 L813.0 661.9 L814.5 662.6 L816.0 660.2 L817.5 660.9 L819.0 661.0 L820.5 661.5 L822.0 661.1 L823.5 659.2 L825.0 658.5 L826.5 659.3 L828.0 657.9 L829.5 660.1 L831.0 658.6 L832.5 658.6 L834.0 658.1 L835.5 660.2 L837.0 658.9 L838.5 658.2 L840.0 658.9 L841.5 658.0 L843.0 658.3 L844.5 658.5 L846.0 656.6 L847.5 656.6 L849.0 656.8 L850.5 657.6 L852.0 656.9 L853.5 655.6 L855.0 653.3 L856.5 651.2 L857.3 648.3 L857.8 646.0 L858.0 645.0 L858.3 643.8 L858.8 641.4 L859.3 638.2 L859.5 636.7 L859.8 633.6 L860.3 627.5 L860.8 619.6 L861.0 615.9 L861.3 609.8 L861.8 597.4 L862.3 581.6 L862.5 574.2 L862.8 561.6 L863.3 536.9 L863.8 507.5 L864.0 494.6 L864.3 474.2 L864.8 439.0 L865.3 406.8 L865.5 395.7 L865.8 382.7 L866.3 374.2 L866.8 384.1 L867.0 392.7 L867.3 409.5 L867.8 443.8 L868.3 480.9 L868.5 495.4 L868.8 515.4 L869.3 545.4 L869.8 570.7 L870.0 579.6 L870.3 591.8 L870.8 609.1 L871.3 623.0 L871.5 627.8 L871.8 633.9 L872.3 642.5 L872.8 646.1 L873.0 646.9 L873.3 648.2 L873.8 649.8 L874.3 650.6 L874.5 650.7 L874.8 649.8 L875.3 648.0 L876.0 644.9 L877.5 642.0 L879.0 634.4 L880.5 634.7 L882.0 637.0 L883.5 644.2 L885.0 652.3 L886.5 655.0 L888.0 652.9 L889.5 650.8 L891.0 647.3 L892.5 642.0 L894.0 639.6 L895.5 638.0 L897.0 638.2 L898.5 640.2 L900.0 644.0 L901.5 648.7 L903.0 652.1 L904.3 652.9 L904.5 652.8 L904.8 652.3 L905.3 651.4 L905.8 650.3 L906.0 649.9 L906.3 649.6 L906.8 649.1 L907.3 648.3 L907.5 648.0 L907.8 646.4 L908.3 643.3 L908.8 639.6 L909.0 638.0 L909.3 636.0 L909.8 632.3 L910.3 628.0 L910.5 626.0 L910.8 623.1 L911.3 617.9 L911.8 612.3 L912.0 610.1 L912.3 606.5 L912.8 601.9 L913.3 599.2 L913.5 598.8 L913.8 598.9 L914.3 600.6 L914.8 602.4 L915.0 603.5 L915.3 605.5 L915.8 608.4 L916.0 609.3 L916.3 610.4 L916.5 610.9 L916.8 611.2 L917.0 611.1 L917.3 610.7 L917.5 610.1 L917.8 610.1 L918.0 611.4 L918.3 612.8 L918.5 613.6 L918.8 614.3 L919.0 614.5 L919.3 614.3 L919.5 613.9 L919.8 612.5 L920.0 611.3 L920.3 608.9 L920.5 604.7 L920.8 598.0 L921.0 593.2 L921.3 585.7 L921.5 580.3 L921.8 571.8 L922.0 565.7 L922.3 556.1 L922.5 549.5 L923.0 532.4 L923.5 515.8 L924.0 501.1 L924.5 491.1 L925.0 487.3 L925.5 490.5 L926.0 500.0 L926.5 514.6 L927.0 531.1 L927.5 547.2 L928.0 562.5 L928.5 576.3 L929.0 589.1 L929.5 600.0 L930.0 609.1 L930.5 615.6 L931.0 620.7 L931.5 624.6 L932.0 629.1 L932.5 632.6 L933.0 635.3 L933.5 636.7 L934.0 637.3 L934.5 637.4 L935.0 636.0 L935.5 633.8 L936.0 630.8 L936.5 627.6 L937.0 623.2 L937.5 617.3 L938.0 608.5 L938.5 597.5 L939.0 584.0 L939.5 569.1 L940.0 551.4 L940.5 531.5 L941.0 509.9 L941.5 490.9 L942.0 476.7 L942.5 471.5 L943.0 477.0 L943.5 491.5 L944.0 511.7 L944.5 533.3 L945.0 554.0 L945.5 571.9 L946.0 587.1 L946.5 599.6 L947.0 610.4 L947.5 619.2 L948.0 626.2 L948.5 631.8 L949.0 636.3 L949.5 639.9 L950.0 643.6 L950.5 646.9 L951.0 649.7 L951.5 650.6 L952.5 650.8 L954.0 652.0 L955.5 652.9 L957.0 654.1 L958.5 654.5 L960.0 654.1 L961.5 655.1 L963.0 657.4 L964.5 656.3 L966.0 655.7 L967.5 654.7 L969.0 655.8 L970.5 655.7 L972.0 654.9 L973.5 656.1 L975.0 654.5 L976.5 653.6 L978.0 653.3 L979.5 651.5 L981.0 651.0 L982.5 648.5 L984.0 648.1 L985.5 649.1 L987.0 650.4 L988.5 652.7 L990.0 653.4 L991.5 654.5 L993.0 655.2 L994.5 655.2 L996.0 653.3 L997.5 653.9 L999.0 653.4 L1000.5 654.5 L1002.0 652.8 L1003.5 653.9 L1005.0 651.5 L1006.5 652.3 L1008.0 653.0 L1009.5 651.4 L1011.0 652.2 L1012.5 648.8 L1014.0 650.0 L1015.5 648.8 L1017.0 646.4 L1018.5 642.5 L1019.5 643.8 L1020.0 644.6 L1020.5 643.6 L1021.0 642.5 L1021.5 641.0 L1022.0 640.7 L1022.5 640.1 L1023.0 639.1 L1023.5 636.2 L1024.0 632.7 L1024.5 628.4 L1025.0 623.6 L1025.5 617.8 L1026.0 611.0 L1026.5 602.9 L1027.0 594.5 L1027.5 587.2 L1028.0 582.2 L1028.5 580.5 L1029.0 582.8 L1029.5 588.5 L1030.0 595.6 L1030.5 604.4 L1031.0 612.8 L1031.5 620.4 L1032.0 627.0 L1032.5 633.0 L1033.0 638.1 L1033.5 642.3 L1034.0 645.2 L1034.5 647.6 L1035.0 649.5 L1035.5 651.6 L1036.0 653.3 L1036.5 654.8 L1037.0 655.9 L1037.5 656.6 L1038.0 657.1 L1039.5 658.6 L1040.5 656.6 L1041.0 655.4 L1041.5 655.6 L1042.0 655.8 L1042.5 655.8 L1043.0 655.4 L1043.5 654.9 L1044.0 654.2 L1044.5 652.8 L1045.0 651.0 L1045.5 648.9 L1046.0 645.9 L1046.5 642.4 L1047.0 638.5 L1047.5 634.6 L1048.0 630.7 L1048.5 627.4 L1049.0 624.8 L1049.5 623.8 L1050.0 624.8 L1050.5 627.4 L1051.0 631.1 L1051.5 635.2 L1052.0 639.0 L1052.5 642.4 L1053.0 645.3 L1053.5 647.9 L1054.0 650.1 L1054.5 651.9 L1055.0 653.2 L1055.5 654.2 L1056.0 655.0 L1056.5 656.0 L1057.0 656.8 L1057.5 657.5 L1058.0 658.5 L1058.5 658.9 L1059.0 659.1 L1060.5 655.7 L1062.0 655.8 L1063.5 654.9 L1065.0 651.5 L1066.5 652.7 L1068.0 650.4 L1069.5 653.2 L1071.0 653.0 L1072.5 653.2 L1074.0 655.7 L1075.5 658.2 L1077.0 656.9 L1078.5 658.6 L1080.0 657.0 L1081.5 655.8 L1083.0 655.1 L1084.5 651.8 L1085.6 652.7 L1086.0 653.0 L1086.1 653.1 L1086.6 653.1 L1087.1 652.8 L1087.5 651.5 L1087.6 650.7 L1088.1 646.4 L1088.6 641.4 L1089.0 636.7 L1089.1 635.5 L1089.6 629.3 L1090.1 621.6 L1090.5 614.4 L1090.6 612.4 L1091.1 601.4 L1091.6 588.5 L1092.0 576.9 L1092.1 573.9 L1092.6 558.4 L1093.1 542.7 L1093.5 529.1 L1093.6 526.4 L1094.1 515.9 L1094.6 511.9 L1095.0 514.2 L1095.1 515.5 L1095.6 525.6 L1096.1 539.6 L1096.5 552.3 L1096.6 555.6 L1097.1 571.7 L1097.6 586.5 L1098.0 597.0 L1098.1 599.5 L1098.6 610.9 L1099.1 620.4 L1099.5 626.8 L1099.6 628.0 L1100.1 633.3 L1100.6 637.3 L1101.0 639.9 L1101.1 640.6 L1101.6 643.9 L1102.1 646.5 L1102.5 648.3 L1102.6 648.7 L1103.1 650.5 L1103.6 652.0 L1104.0 653.1 L1105.5 656.3 L1107.0 659.2 L1108.5 657.1 L1110.0 657.3 L1111.5 659.2 L1113.0 659.7 L1114.5 657.1 L1116.0 658.4 L1117.5 659.6 L1119.0 657.9 L1120.5 658.5 L1122.0 657.8 L1123.5 657.8 L1125.0 657.8 L1126.5 658.1 L1128.0 659.4 L1129.5 658.2 L1131.0 659.3 L1132.5 660.5 L1134.0 659.4 L1135.5 659.9 L1137.0 659.9 L1138.5 660.0 L1140.0 662.2 L1141.5 660.1 L1143.0 660.7 L1144.5 658.9 L1146.0 657.5 L1147.5 656.2 L1149.0 655.6 L1150.5 654.1 L1152.0 652.6 L1153.2 648.8 L1153.5 647.8 L1153.7 647.4 L1154.2 646.3 L1154.7 645.2 L1155.0 644.4 L1155.2 643.8 L1155.7 642.0 L1156.2 640.0 L1156.5 638.7 L1156.7 637.7 L1157.2 634.9 L1157.7 631.8 L1158.0 629.8 L1158.2 628.5 L1158.7 625.0 L1159.2 621.2 L1159.5 618.8 L1159.7 617.3 L1160.2 613.6 L1160.7 610.0 L1161.0 608.1 L1161.2 606.3 L1161.7 603.9 L1162.2 602.6 L1162.5 602.4 L1162.7 602.5 L1163.2 603.5 L1163.7 605.5 L1164.0 606.7 L1164.2 607.7 L1164.7 610.3 L1165.2 612.8 L1165.5 614.2 L1165.7 615.0 L1166.0 616.1 L1166.2 616.8 L1166.5 617.7 L1166.7 618.2 L1167.0 618.9 L1167.2 619.5 L1167.5 620.2 L1167.7 620.6 L1168.0 621.1 L1168.2 621.3 L1168.5 621.6 L1168.7 621.5 L1169.0 621.2 L1169.2 621.0 L1169.5 620.7 L1169.7 620.4 L1170.0 620.1 L1170.2 620.1 L1170.5 620.1 L1170.7 620.0 L1171.0 619.9 L1171.2 619.8 L1171.5 619.7 L1172.0 620.2 L1172.5 620.6 L1173.0 621.2 L1173.5 621.7 L1174.0 622.1 L1174.5 622.8 L1175.0 623.7 L1175.5 624.8 L1176.0 626.5 L1176.5 627.6 L1177.0 628.9 L1177.5 630.1 L1178.0 632.3 L1178.5 634.4 L1179.0 636.4 L1179.5 637.9 L1180.0 639.3 L1180.5 640.7 L1181.0 642.0 L1181.5 643.2 L1182.0 644.4 L1182.5 645.8 L1183.0 647.1 L1183.5 648.4 L1185.0 649.5 L1186.5 652.8 L1188.0 654.2 L1189.5 657.3 L1191.0 659.5 L1192.5 660.3 L1194.0 661.0 L1195.5 660.1 L1197.0 661.8 L1198.5 660.6 L1200.0 664.0 L1201.5 663.1 L1203.0 660.8 L1204.5 659.8 L1206.0 663.3 L1207.5 661.4 L1209.0 662.7 L1210.5 661.0 L1212.0 662.2 L1213.5 661.6 L1215.0 662.6 L1216.5 661.8 L1218.0 663.4 L1219.5 661.3 L1221.0 662.2 L1222.5 659.5 L1224.0 658.5 L1225.5 655.1 L1227.0 653.4 L1228.5 654.5 L1230.0 651.9 L1231.5 652.7 L1233.0 654.1 L1234.5 655.0 L1236.0 657.4 L1237.5 657.4 L1239.0 659.0 L1240.5 661.9 L1242.0 660.5 L1243.5 662.0 L1245.0 662.0 L1246.5 662.7 L1248.0 661.7 L1249.5 659.5 L1250.3 659.8 L1250.8 659.9 L1251.0 660.0 L1251.3 659.9 L1251.8 659.6 L1252.3 659.3 L1252.5 659.2 L1252.8 659.2 L1253.3 659.1 L1253.8 658.9 L1254.0 658.8 L1254.3 658.1 L1254.8 656.8 L1255.3 655.3 L1255.5 654.7 L1255.8 653.7 L1256.3 651.8 L1256.8 649.8 L1257.0 648.9 L1257.3 648.0 L1257.8 646.4 L1258.3 644.7 L1258.5 644.2 L1258.8 643.6 L1259.3 643.2 L1259.8 643.6 L1260.0 644.0 L1260.3 644.8 L1260.8 646.6 L1261.3 648.7 L1261.5 649.6 L1261.8 650.7 L1262.3 652.4 L1262.8 653.9 L1263.0 654.4 L1263.3 655.4 L1263.8 657.0 L1264.3 658.3 L1264.5 658.8 L1264.8 659.1 L1265.3 659.6 L1265.8 660.0 L1266.0 660.1 L1266.3 660.5 L1266.8 661.1 L1267.3 661.7 L1267.5 661.9 L1267.8 661.8 L1268.3 661.8 L1269.0 661.7 L1270.5 662.7 L1272.0 661.9 L1273.5 662.5 L1275.0 661.9 L1276.5 661.4 L1278.0 660.9 L1279.5 660.8 L1281.0 660.6 L1282.5 656.9 L1284.0 658.9 L1285.5 654.4 L1287.0 655.1 L1288.5 653.7 L1290.0 654.7 L1291.5 654.6 L1293.0 655.7 L1294.5 657.1 L1296.0 659.3 L1297.5 661.9 L1299.0 661.4 L1300.5 660.2 L1302.0 661.7 L1303.5 662.5 L1305.0 665.2 L1306.5 661.5 L1308.0 661.9 L1309.5 662.8 L1311.0 662.6 L1312.5 661.2 L1314.0 663.2 L1315.5 661.2 L1317.0 662.1 L1318.5 663.5 L1320.0 661.0 L1321.5 661.7 L1323.0 663.4 L1324.5 661.4 L1325.4 660.8 L1325.9 660.4 L1326.0 660.3 L1326.4 660.2 L1326.9 660.1 L1327.4 659.9 L1327.5 659.8 L1327.9 659.8 L1328.4 659.8 L1328.9 659.6 L1329.0 659.5 L1329.4 658.3 L1329.9 656.7 L1330.4 654.9 L1330.5 654.5 L1330.9 653.7 L1331.4 652.6 L1331.9 651.3 L1332.0 651.1 L1332.4 649.5 L1332.9 647.7 L1333.4 647.3 L1333.5 647.1 L1333.9 646.4 L1334.4 646.1 L1334.9 646.5 L1335.0 646.7 L1335.4 647.5 L1335.9 649.3 L1336.4 651.7 L1336.5 652.2 L1336.9 653.3 L1337.4 654.5 L1337.9 655.6 L1338.0 655.8 L1338.4 656.8 L1338.9 657.9 L1339.4 658.8 L1339.5 658.9 L1339.9 659.8 L1340.4 660.8 L1340.9 661.7 L1341.0 661.8 L1341.4 662.0 L1341.9 662.1 L1342.4 662.1 L1342.5 662.1 L1342.9 662.2 L1343.4 662.4 L1344.0 662.5 L1345.5 665.2 L1347.0 665.3 L1348.5 663.8 L1350.0 665.1 L1351.5 665.7 L1353.0 664.7 L1354.5 664.6 L1356.0 662.9 L1357.5 663.7 L1359.0 662.0 L1360.5 664.5 L1362.0 663.2 L1363.5 664.4 L1365.0 662.3 L1366.5 663.6 L1368.0 661.2 L1369.5 662.1 L1371.0 662.8 L1372.5 662.5 L1374.0 661.9 L1375.5 660.3 L1377.0 662.8 L1378.5 662.0 L1380.0 662.3 L1381.5 662.1 L1383.0 660.6 L1384.5 660.8 L1386.0 661.9 L1387.5 657.7 L1389.0 657.9 L1390.5 656.1 L1392.0 657.2 L1393.5 653.8 L1395.0 648.6 L1396.5 644.9 L1398.0 640.1 L1399.5 635.3 L1401.0 631.5 L1402.5 630.2 L1404.0 626.8 L1405.5 624.9 L1407.0 622.7 L1408.5 623.7 L1410.0 629.2 L1411.5 631.1 L1413.0 635.8 L1414.5 642.6 L1416.0 648.9 L1417.5 651.0 L1419.0 655.4 L1420.5 659.5 L1422.0 659.7 L1423.5 661.0 L1425.0 659.7 L1426.5 660.7 L1428.0 660.9 L1429.5 660.1 L1431.0 660.4 L1432.5 662.5 L1434.0 662.9 L1435.5 662.0 L1437.0 664.4 L1438.5 663.8 L1440.0 663.3 L1441.5 663.3 L1443.0 663.0 L1444.5 663.2 L1446.0 663.3 L1447.5 662.5 L1449.0 660.5 L1450.5 662.1 L1452.0 661.4 L1453.5 661.0 L1455.0 662.5 L1456.5 659.9 L1458.0 661.9 L1459.5 660.1 L1461.0 659.2 L1462.5 659.1 L1464.0 661.6 L1465.5 660.4 L1467.0 658.3 L1468.5 659.1 L1470.0 659.4 L1471.5 656.5 L1473.0 656.6 L1474.5 657.3 L1476.0 656.8 L1477.5 656.0 L1479.0 657.8 L1480.5 656.7 L1482.0 656.9 L1483.5 658.3 L1485.0 656.4 L1486.5 657.0 L1488.0 653.5 L1489.5 651.7 L1491.0 650.5 L1492.5 649.8 L1494.0 648.2 L1495.5 647.8 L1497.0 646.6 L1498.5 649.2 L1500.0 652.3 L1501.5 655.4 L1503.0 658.3 L1504.5 657.0 L1506.0 660.4 L1507.5 660.9 L1509.0 662.0 L1510.5 663.1 L1512.0 662.8 L1513.5 663.1 L1515.0 665.1 L1516.5 664.3 L1518.0 662.5 L1519.5 662.0 L1521.0 660.5 L1522.5 658.5 L1524.0 658.6 L1525.5 655.0 L1526.0 653.9 L1526.5 652.5 L1527.0 650.9 L1527.5 649.3 L1528.0 647.3 L1528.5 645.0 L1529.0 642.7 L1529.5 640.0 L1530.0 636.7 L1530.5 631.7 L1531.0 626.1 L1531.5 619.9 L1532.0 613.6 L1532.5 607.2 L1533.0 601.1 L1533.5 595.8 L1534.0 592.4 L1534.5 591.2 L1535.0 592.4 L1535.5 595.9 L1536.0 601.8 L1536.5 607.8 L1537.0 614.1 L1537.5 620.3 L1538.0 625.5 L1538.5 630.2 L1539.0 634.2 L1539.5 638.6 L1540.0 642.4 L1540.5 645.6 L1541.0 648.0 L1541.5 650.0 L1542.0 651.6 L1542.5 653.4 L1543.0 654.9 L1543.5 656.2 L1545.0 658.2 L1546.5 657.9 L1548.0 661.6 L1549.5 660.9 L1551.0 658.5 L1552.5 660.1 L1554.0 657.6 L1554.5 657.0 L1555.0 656.2 L1555.5 655.3 L1556.0 654.0 L1556.5 652.5 L1557.0 650.7 L1557.5 648.8 L1558.0 646.6 L1558.5 644.0 L1559.0 640.8 L1559.5 637.3 L1560.0 633.4 L1560.5 629.1 L1561.0 624.7 L1561.5 620.6 L1562.0 619.0 L1562.5 616.8 L1563.0 615.9 L1563.5 616.5 L1564.0 618.5 L1564.5 621.6 L1565.0 625.1 L1565.5 628.8 L1566.0 632.5 L1566.5 636.1 L1567.0 639.4 L1567.5 642.4 L1568.0 644.5 L1568.5 646.3 L1569.0 647.8 L1569.5 648.6 L1570.0 649.1 L1570.5 649.4 L1571.0 651.1 L1571.5 652.7 L1572.0 654.2 L1573.5 653.8 L1575.0 652.2 L1576.5 651.8 L1578.0 649.3 L1579.5 649.2 L1581.0 646.6 L1582.5 649.2 L1584.0 648.1 L1585.5 649.8 L1587.0 651.7 L1588.5 652.2 L1590.0 655.3 L1591.5 656.2 L1593.0 656.6 L1594.5 654.9 L1596.0 656.9 L1597.5 658.0 L1599.0 656.4 L1600.5 656.7 L1602.0 657.1 L1603.5 655.9 L1605.0 656.2 L1606.5 657.4 L1608.0 656.6 L1609.5 656.7 L1611.0 657.6 L1612.5 662.7 L1614.0 662.4 L1615.5 661.9 L1617.0 664.6 L1618.5 665.0 L1620.0 664.4 L1621.5 662.6 L1623.0 665.9 L1624.5 664.7 L1626.0 663.9 L1627.5 664.7 L1629.0 663.8 L1630.5 663.6 L1632.0 664.7 L1633.5 662.0 L1635.0 664.6 L1636.5 664.0 L1638.0 664.3 L1639.5 664.4 L1641.0 665.0 L1642.5 665.0 L1644.0 664.6 L1645.5 663.5 L1647.0 664.6 L1648.5 663.7 L1650.0 663.4 L1651.5 664.8 L1653.0 664.8 L1654.5 665.6 L1656.0 662.7 L1657.5 665.3 L1659.0 665.5 L1660.5 665.1 L1662.0 666.5 L1663.5 664.4 L1665.0 665.6 L1666.5 665.1 L1668.0 665.5 L1669.5 664.7 L1671.0 665.6 L1672.5 666.4 L1674.0 664.6 L1675.5 663.6 L1677.0 661.3 L1678.5 662.2 L1680.0 658.8 L1681.5 658.2 L1683.0 657.5 L1684.5 656.4 L1686.0 657.2 L1687.5 657.3 L1689.0 659.4 L1690.5 659.0 L1692.0 659.5 L1693.5 659.1 L1695.0 660.9 L1696.5 662.0 L1698.0 662.2 L1699.5 661.6 L1701.0 662.6 L1702.5 662.8 L1704.0 661.4 L1705.5 658.5 L1707.0 659.9 L1708.5 656.5 L1710.0 655.1 L1711.5 652.9 L1713.0 651.6 L1714.5 651.6 L1716.0 647.7 L1717.5 648.1 L1719.0 648.3 L1720.5 650.2 L1722.0 653.5 L1723.5 653.0 L1725.0 654.6 L1726.5 654.3 L1728.0 656.5 L1729.5 658.0 L1731.0 658.3 L1732.5 659.3 L1734.0 661.3 L1735.5 661.3 L1737.0 660.8 L1738.5 660.2 L1740.0 659.5 L1741.5 662.4 L1743.0 659.5 L1744.5 661.5 L1746.0 660.8 L1747.5 660.3 L1749.0 661.8 L1750.5 660.0 L1752.0 660.6 L1753.5 657.4 L1755.0 657.6 L1756.5 657.2 L1758.0 654.0 L1759.5 655.9 L1761.0 654.8 L1762.5 653.6 L1764.0 659.7 L1765.5 663.1 L1767.0 663.1 L1768.5 662.6 L1770.0 662.4 L1771.5 659.8 L1773.0 661.0 L1774.5 661.1 L1776.0 658.7 L1777.5 659.1 L1779.0 658.9 L1780.5 653.9 L1782.0 652.9 L1783.5 653.4 L1785.0 654.6 L1786.5 656.3 L1788.0 657.3 L1789.5 659.3 L1791.0 660.6 L1792.5 663.1 L1794.0 661.1 L1795.5 661.8 L1797.0 663.5 L1798.5 662.7 L1800.0 662.4 L1801.5 663.2 L1803.0 660.9 L1804.5 658.6 L1806.0 657.5 L1807.5 657.3 L1809.0 654.2 L1810.5 652.5 L1812.0 650.8 L1813.5 648.6 L1815.0 645.9 L1816.5 647.6 L1818.0 650.3 L1819.5 653.3 L1821.0 656.5 L1822.5 659.4 L1824.0 658.9 L1825.5 656.1 L1827.0 655.1 L1828.5 652.2 L1830.0 652.2 L1831.5 648.7 L1833.0 647.6 L1834.5 648.4 L1836.0 649.0 L1837.5 651.7 L1839.0 654.3 L1840.5 657.4 L1842.0 660.4 L1843.5 662.3 L1845.0 664.1 L1846.5 663.2 L1848.0 663.8 L1849.5 663.3 L1851.0 664.7 L1852.5 663.1 L1854.0 663.7 L1855.5 664.0 L1857.0 664.6 L1858.5 663.3 L1860.0 663.8 L1861.5 663.3 L1863.0 662.4 L1864.5 663.9 L1866.0 662.6 L1867.5 660.2 L1869.0 659.9 L1870.5 660.6 L1872.0 658.9 L1873.5 657.8 L1875.0 659.2 L1876.5 656.0 L1878.0 654.6 L1879.5 653.8 L1881.0 651.1 L1882.5 650.2 L1884.0 648.8 L1885.5 647.7 L1887.0 644.8 L1888.5 646.0 L1890.0 645.3 L1891.5 649.7 L1893.0 651.2 L1894.5 653.6 L1896.0 655.8 L1897.5 657.2 L1899.0 660.1 L1900.5 662.0 L1902.0 664.1 L1903.5 663.2 L1905.0 662.1 L1906.5 663.7 L1908.0 662.2 L1909.5 662.6 L1911.0 663.5 L1912.5 663.2 L1914.0 661.2 L1915.5 661.5 L1917.0 662.7 L1918.5 662.2 L1920.0 661.6 L1921.5 661.7 L1923.0 658.8 L1924.5 660.3 L1926.0 659.1 L1927.5 659.6 L1929.0 659.7 L1930.5 660.6 L1932.0 661.4 L1933.5 661.2 L1935.0 660.9 L1936.5 660.5 L1938.0 662.2 L1939.5 661.5 L1941.0 659.8 L1942.5 661.5 L1944.0 662.2 L1945.5 661.0 L1947.0 661.2 L1948.5 660.8 L1950.0 657.7 L1951.5 656.4 L1953.0 654.9 L1954.5 652.5 L1956.0 651.4 L1957.5 649.3 L1959.0 648.4 L1960.5 647.2 L1962.0 648.8 L1963.5 649.5 L1965.0 652.5 L1966.5 652.7 L1968.0 655.9 L1969.5 657.8 L1971.0 659.3 L1972.5 659.5 L1974.0 661.4 L1975.5 663.0 L1977.0 662.8 L1978.5 662.5 L1980.0 663.1 L1981.5 661.3 L1983.0 660.5 L1984.5 661.5 L1986.0 662.0 L1987.5 659.4 L1989.0 662.5 L1990.5 661.1 L1992.0 661.4 L1993.5 659.8 L1995.0 660.3 L1996.5 661.8 L1998.0 661.6 L1999.5 660.4 L2001.0 659.4 L2002.5 659.5 L2004.0 660.6 L2005.5 658.7 L2007.0 658.3 L2008.5 658.9 L2010.0 659.8 L2011.5 656.6 L2013.0 656.6 L2014.5 655.2 L2016.0 653.7 L2017.5 652.8 L2019.0 653.8 L2020.5 655.1 L2022.0 655.4 L2023.5 660.3 L2025.0 661.3 L2026.5 662.1 L2028.0 662.4 L2029.5 663.4 L2031.0 662.3 L2032.5 665.3 L2034.0 665.8 L2035.5 665.2 L2037.0 663.4 L2038.5 661.3 L2040.0 661.8 L2041.5 662.0 L2043.0 662.8 L2044.5 659.6 L2046.0 660.7 L2047.5 660.8 L2049.0 660.5 L2050.5 659.5 L2052.0 656.7 L2053.5 659.5 L2055.0 658.7 L2056.5 658.7 L2058.0 657.0 L2059.5 657.1 L2061.0 658.8 L2062.5 657.3 L2064.0 657.4 L2065.5 656.8 L2067.0 658.6 L2068.5 655.9 L2070.0 656.9 L2071.5 657.8 L2073.0 657.4 L2074.5 658.2 L2076.0 657.8 L2077.5 658.7 L2079.0 657.2 L2080.5 657.2 L2082.0 657.5 L2083.5 655.5 L2085.0 658.3 L2086.5 656.1 L2088.0 657.9 L2089.5 658.1 L2091.0 657.6 L2092.5 656.8 L2094.0 655.9 L2095.5 654.8 L2097.0 657.8 L2098.5 657.5 L2100.0 659.8 L2101.5 658.5 L2103.0 659.8 L2104.5 659.4 L2106.0 660.7 L2107.5 660.5 L2109.0 661.1 L2110.5 659.9 L2112.0 661.3 L2113.5 662.2 L2115.0 663.9 L2116.5 663.3 L2118.0 662.4 L2119.5 665.3 L2121.0 664.5 L2122.5 665.4 L2124.0 663.4 L2125.5 661.0 L2127.0 663.0 L2128.5 662.6 L2130.0 663.6 L2131.5 661.7 L2133.0 662.1 L2134.5 661.4 L2136.0 662.6 L2137.5 661.4 L2139.0 663.3"/></defs>
<g fill="none" stroke="#00b04c" stroke-linejoin="bevel" stroke-linecap="butt"><use href="#c1" stroke-width="12.0" stroke-opacity="0.35"/><use href="#c1" y="-0.6" stroke-width="8.0"/><use href="#c1" y="0.6" stroke-width="8.0"/></g>
<defs><path id="c2" d="M252.0 988.7 L253.5 989.5 L255.0 987.8 L256.5 989.9 L258.0 987.9 L259.5 989.3 L261.0 989.1 L262.5 988.5 L264.0 991.8 L265.5 988.7 L267.0 989.6 L268.5 990.2 L270.0 988.1 L271.5 990.4 L273.0 989.1 L274.5 990.1 L276.0 988.3 L277.5 988.2 L279.0 990.2 L280.5 989.6 L282.0 989.2 L283.5 989.7 L285.0 989.6 L286.5 988.0 L288.0 987.1 L289.5 987.6 L291.0 987.4 L292.5 987.1 L294.0 988.5 L295.5 988.6 L297.0 989.0 L298.5 989.2 L300.0 988.7 L301.5 988.8 L303.0 989.1 L304.5 988.1 L306.0 988.4 L307.5 989.0 L309.0 988.4 L310.5 988.5 L312.0 988.9 L313.5 990.2 L315.0 989.3 L316.5 988.7 L318.0 988.5 L319.5 988.9 L321.0 991.0 L322.5 986.2 L324.0 989.5 L325.5 989.2 L327.0 989.8 L328.5 988.0 L330.0 990.9 L331.5 989.9 L333.0 989.0 L334.5 989.1 L336.0 988.4 L337.5 989.0 L339.0 988.9 L340.5 989.9 L342.0 989.3 L343.5 988.9 L345.0 989.6 L346.5 989.5 L348.0 989.2 L349.5 987.6 L351.0 989.9 L352.5 987.9 L354.0 988.0 L355.5 988.8 L357.0 989.4 L358.5 990.2 L360.0 987.4 L361.5 990.2 L363.0 990.3 L364.5 988.4 L366.0 988.6 L367.5 988.3 L369.0 988.2 L370.5 987.5 L372.0 987.2 L373.5 988.5 L375.0 988.9 L376.5 990.3 L378.0 987.7 L379.5 986.7 L381.0 988.7 L382.5 988.2 L384.0 988.9 L385.5 988.2 L387.0 987.4 L388.5 987.9 L390.0 989.2 L391.5 988.7 L393.0 987.6 L394.5 989.2 L396.0 987.1 L397.5 987.9 L399.0 988.5 L400.5 987.1 L402.0 987.2 L403.5 988.3 L405.0 988.2 L406.5 988.0 L408.0 987.7 L409.5 987.2 L411.0 987.5 L412.5 990.9 L414.0 987.6 L415.5 989.5 L417.0 987.6 L418.5 989.3 L420.0 989.2 L421.5 988.4 L423.0 987.4 L424.5 986.7 L426.0 988.6 L427.5 986.5 L429.0 986.4 L430.5 988.8 L432.0 988.6 L433.5 987.2 L435.0 986.9 L436.5 986.4 L438.0 987.2 L439.5 986.3 L441.0 985.3 L442.5 985.8 L444.0 986.6 L445.5 984.8 L447.0 985.2 L448.5 986.0 L450.0 987.3 L451.5 985.7 L453.0 985.4 L454.5 986.8 L456.0 983.8 L457.5 983.8 L459.0 984.8 L459.7 984.7 L460.2 984.6 L460.5 984.6 L460.7 984.4 L461.2 984.0 L461.7 983.6 L462.0 983.3 L462.2 982.7 L462.7 981.4 L463.2 979.9 L463.5 979.0 L463.7 979.1 L464.2 979.2 L464.7 978.9 L465.0 978.6 L465.2 977.9 L465.7 975.6 L466.2 972.6 L466.5 970.5 L466.7 968.9 L467.2 964.3 L467.7 959.4 L468.0 957.0 L468.2 955.7 L468.7 954.2 L469.2 955.7 L469.5 957.8 L469.7 959.5 L470.2 965.0 L470.7 969.6 L471.0 972.0 L471.2 973.3 L471.7 975.8 L472.2 977.7 L472.5 978.5 L472.7 979.0 L473.2 980.0 L473.7 980.7 L474.0 980.9 L474.2 981.1 L474.7 981.4 L475.2 981.5 L475.5 981.6 L475.7 981.9 L476.2 982.8 L476.7 983.6 L477.0 984.0 L477.2 984.0 L477.7 983.9 L478.5 983.7 L480.0 984.0 L481.5 983.4 L483.0 984.4 L484.5 984.4 L486.0 983.4 L486.5 982.6 L487.0 981.7 L487.5 980.8 L488.0 980.8 L488.5 980.7 L489.0 980.4 L489.5 979.2 L490.0 977.7 L490.5 975.7 L491.0 972.6 L491.5 968.6 L492.0 963.6 L492.5 959.0 L493.0 952.9 L493.5 944.9 L494.0 933.8 L494.5 923.2 L495.0 914.5 L495.5 911.1 L496.0 914.5 L496.5 923.3 L497.0 933.7 L497.5 944.7 L498.0 954.3 L498.5 961.3 L499.0 966.7 L499.5 970.7 L500.0 973.5 L500.5 975.4 L501.0 976.8 L501.5 978.1 L502.0 979.1 L502.5 979.9 L503.0 981.0 L503.5 982.0 L504.0 982.9 L504.5 982.7 L505.5 982.1 L507.0 984.8 L508.5 984.6 L510.0 985.7 L511.5 985.2 L513.0 984.4 L514.5 985.6 L516.0 985.2 L517.5 984.2 L519.0 984.5 L520.5 984.6 L522.0 985.4 L523.5 985.9 L525.0 985.1 L526.5 983.9 L528.0 984.5 L529.5 985.2 L531.0 985.6 L532.5 983.6 L534.0 984.5 L535.5 983.8 L537.0 982.1 L538.5 982.7 L540.0 983.2 L541.5 983.1 L543.0 983.0 L544.5 982.7 L546.0 983.4 L547.5 982.1 L549.0 981.5 L550.5 983.4 L552.0 982.3 L553.5 983.5 L555.0 982.0 L556.5 983.9 L558.0 981.6 L559.5 981.5 L561.0 983.2 L562.5 984.1 L564.0 981.8 L565.5 983.9 L567.0 983.8 L568.5 983.1 L570.0 982.1 L571.5 980.3 L573.0 980.8 L574.5 981.4 L576.0 982.6 L577.5 981.9 L579.0 981.4 L580.5 982.1 L582.0 980.5 L583.5 982.3 L585.0 981.1 L586.5 983.1 L588.0 982.1 L589.5 981.3 L591.0 981.5 L592.5 980.5 L594.0 982.1 L595.5 981.0 L597.0 981.8 L598.5 982.9 L600.0 982.2 L601.5 982.0 L603.0 983.7 L604.5 981.7 L606.0 981.7 L607.5 980.2 L609.0 979.1 L610.5 980.1 L612.0 978.5 L613.5 976.6 L615.0 979.5 L616.5 978.5 L618.0 976.5 L619.5 977.9 L621.0 975.9 L622.5 974.9 L624.0 973.8 L625.5 975.1 L627.0 973.3 L628.5 974.0 L630.0 974.9 L631.5 975.5 L633.0 975.5 L634.5 977.2 L636.0 977.9 L637.5 980.1 L639.0 979.2 L640.5 981.2 L642.0 980.0 L643.5 979.5 L645.0 979.9 L646.5 979.9 L648.0 979.8 L649.5 980.1 L651.0 979.6 L652.5 977.8 L654.0 978.4 L655.5 980.3 L657.0 978.6 L658.5 976.4 L660.0 978.5 L661.5 979.7 L663.0 979.1 L664.5 977.9 L666.0 977.9 L667.5 978.1 L669.0 977.2 L670.5 976.7 L672.0 978.5 L673.5 976.6 L675.0 977.8 L676.5 975.5 L678.0 976.1 L679.5 975.8 L681.0 977.2 L682.5 976.2 L684.0 976.1 L685.5 975.8 L687.0 976.8 L688.5 977.5 L690.0 976.0 L691.5 977.1 L693.0 976.5 L694.5 975.9 L696.0 976.7 L697.5 977.6 L699.0 974.0 L700.5 976.9 L702.0 977.9 L703.5 976.1 L705.0 976.9 L706.5 977.0 L708.0 976.6 L709.5 976.3 L711.0 977.2 L712.5 977.0 L714.0 976.1 L715.5 976.5 L717.0 975.1 L718.5 975.7 L720.0 975.9 L721.5 975.7 L723.0 975.1 L724.5 976.7 L726.0 975.7 L727.5 975.9 L729.0 973.8 L730.5 974.3 L732.0 974.0 L733.5 974.2 L735.0 975.7 L736.5 976.2 L738.0 973.9 L739.5 973.9 L741.0 973.1 L742.5 972.6 L744.0 973.7 L745.5 972.3 L747.0 971.5 L748.5 972.8 L750.0 971.9 L751.5 972.2 L753.0 972.1 L754.5 972.6 L756.0 972.2 L757.5 972.3 L759.0 971.3 L760.5 971.2 L762.0 971.5 L763.5 971.2 L765.0 971.2 L766.5 971.0 L768.0 972.4 L769.5 970.1 L771.0 970.4 L772.5 969.8 L774.0 970.8 L775.5 969.0 L777.0 968.6 L778.5 970.7 L780.0 970.1 L781.5 969.2 L783.0 967.7 L784.5 968.6 L786.0 966.2 L787.5 962.6 L787.9 961.7 L788.4 960.4 L788.9 958.8 L789.0 958.5 L789.4 956.9 L789.9 954.5 L790.4 951.6 L790.5 951.0 L790.9 948.6 L791.4 944.7 L791.9 939.6 L792.0 938.4 L792.4 932.1 L792.9 922.4 L793.4 910.4 L793.5 907.6 L793.9 895.8 L794.4 878.3 L794.9 858.2 L795.0 853.9 L795.4 836.8 L795.9 817.3 L796.4 802.1 L796.5 800.1 L796.9 796.4 L797.4 802.2 L797.9 817.5 L798.0 821.3 L798.4 838.8 L798.9 860.1 L799.4 879.9 L799.5 883.6 L799.9 896.9 L800.4 910.9 L800.9 922.1 L801.0 924.1 L801.4 931.2 L801.9 938.4 L802.4 944.1 L802.5 945.1 L802.9 948.8 L803.4 952.6 L803.9 955.7 L804.0 956.2 L804.4 958.3 L804.9 960.6 L805.4 962.5 L805.5 962.8 L805.9 963.8 L807.0 965.4 L808.5 964.5 L810.0 963.6 L811.5 961.2 L813.0 957.9 L814.5 954.4 L816.0 951.7 L817.5 951.9 L819.0 954.4 L820.5 959.4 L822.0 961.4 L823.5 964.9 L825.0 963.1 L826.5 964.3 L828.0 961.5 L829.5 961.2 L831.0 960.9 L832.5 959.4 L833.0 958.4 L833.5 957.3 L834.0 956.0 L834.5 955.4 L835.0 954.5 L835.5 953.3 L836.0 951.1 L836.5 948.4 L837.0 945.0 L837.5 941.4 L838.0 936.9 L838.5 931.3 L839.0 924.4 L839.5 916.5 L840.0 908.0 L840.5 899.5 L841.0 893.5 L841.5 891.3 L842.0 893.6 L842.5 899.8 L843.0 909.4 L843.5 917.9 L844.0 925.8 L844.5 932.7 L845.0 938.8 L845.5 943.8 L846.0 947.9 L846.5 950.6 L847.0 952.8 L847.5 954.3 L848.0 956.0 L848.5 957.4 L849.0 958.5 L849.5 959.5 L850.0 960.3 L850.5 961.0 L852.0 962.5 L853.5 962.6 L855.0 961.1 L856.5 959.6 L858.0 957.6 L859.5 957.9 L861.0 952.9 L861.5 951.2 L862.0 949.1 L862.5 946.5 L863.0 942.9 L863.5 938.5 L864.0 933.1 L864.5 927.7 L865.0 920.6 L865.5 911.6 L866.0 899.0 L866.5 883.5 L867.0 864.7 L867.5 842.9 L868.0 818.2 L868.5 792.0 L869.0 767.3 L869.5 749.3 L870.0 742.6 L870.5 749.3 L871.0 767.2 L871.5 790.3 L872.0 817.0 L872.5 842.2 L873.0 864.5 L873.5 882.6 L874.0 897.4 L874.5 909.3 L875.0 918.9 L875.5 926.5 L876.0 932.5 L876.5 936.9 L877.0 940.4 L877.5 943.1 L878.0 945.4 L878.5 947.4 L879.0 948.9 L880.5 953.6 L882.0 957.7 L883.5 960.0 L885.0 958.3 L886.5 958.5 L887.5 957.2 L888.0 956.3 L888.5 955.8 L889.0 955.2 L889.5 954.3 L890.0 953.4 L890.5 952.2 L891.0 950.5 L891.5 947.6 L892.0 943.9 L892.5 939.4 L893.0 934.6 L893.5 928.6 L894.0 921.5 L894.5 913.6 L895.0 905.2 L895.5 896.2 L896.0 890.3 L896.5 888.0 L897.0 890.2 L897.5 896.0 L898.0 903.3 L898.5 911.7 L899.0 920.7 L899.5 928.8 L900.0 935.8 L900.5 940.5 L901.0 944.3 L901.5 947.2 L902.0 949.6 L902.5 951.5 L903.0 953.0 L903.5 954.2 L904.0 955.3 L904.5 956.1 L905.0 956.6 L905.5 956.9 L906.0 957.2 L907.5 958.8 L909.0 957.3 L910.5 958.6 L912.0 957.4 L913.5 958.0 L915.0 957.9 L916.5 956.2 L918.0 956.6 L918.4 956.0 L918.9 955.2 L919.4 954.3 L919.5 954.1 L919.9 953.5 L920.4 952.6 L920.9 951.6 L921.0 951.3 L921.4 950.6 L921.9 949.5 L922.4 947.9 L922.5 947.5 L922.9 945.6 L923.4 942.5 L923.9 938.8 L924.0 937.9 L924.4 934.3 L924.9 929.0 L925.4 923.0 L925.5 921.7 L925.9 916.6 L926.4 910.4 L926.9 906.0 L927.0 905.4 L927.4 904.1 L927.9 905.3 L928.4 909.0 L928.5 909.9 L928.9 914.3 L929.4 920.1 L929.9 925.5 L930.0 926.5 L930.4 929.3 L930.9 931.9 L931.4 933.5 L931.5 933.7 L931.9 935.6 L932.0 936.1 L932.4 938.1 L932.5 938.5 L932.9 939.7 L933.0 939.9 L933.4 939.5 L933.5 939.3 L933.9 938.1 L934.0 937.7 L934.4 935.6 L934.5 934.6 L934.9 930.4 L935.0 929.2 L935.4 923.8 L935.5 922.2 L935.9 915.2 L936.0 913.2 L936.4 904.0 L936.5 901.4 L937.0 886.7 L937.5 868.7 L938.0 847.9 L938.5 823.4 L939.0 795.8 L939.5 765.4 L940.0 738.0 L940.5 718.3 L941.0 710.9 L941.5 718.1 L942.0 737.8 L942.5 764.0 L943.0 793.6 L943.5 821.9 L944.0 847.3 L944.5 869.1 L945.0 887.2 L945.5 901.1 L946.0 912.2 L946.5 920.9 L947.0 928.9 L947.5 935.4 L948.0 940.7 L948.5 944.7 L949.0 948.0 L949.5 950.8 L950.0 952.3 L951.0 954.5 L952.5 956.3 L954.0 961.1 L955.5 961.4 L957.0 962.0 L958.5 963.2 L960.0 962.8 L961.5 961.2 L963.0 961.4 L964.5 959.8 L966.0 960.3 L967.5 958.9 L969.0 958.4 L970.5 956.3 L972.0 956.1 L973.5 955.8 L975.0 955.3 L976.5 953.8 L978.0 950.2 L978.6 950.3 L979.1 950.2 L979.5 950.0 L979.6 949.7 L980.1 947.9 L980.6 945.8 L981.0 943.9 L981.1 943.6 L981.6 941.9 L982.1 939.5 L982.5 937.0 L982.6 936.1 L983.1 931.1 L983.6 924.9 L984.0 919.0 L984.1 917.5 L984.6 908.9 L985.1 899.0 L985.5 890.2 L985.6 887.9 L986.1 876.3 L986.6 866.0 L987.0 859.7 L987.1 858.5 L987.6 855.8 L988.1 858.7 L988.5 864.5 L988.6 866.3 L989.1 877.5 L989.6 888.3 L990.0 896.7 L990.1 899.0 L990.6 909.7 L991.1 919.1 L991.5 925.5 L991.6 926.9 L992.1 932.9 L992.6 937.8 L993.0 941.1 L993.1 941.9 L993.6 945.4 L994.1 948.4 L994.5 950.4 L994.6 950.6 L995.1 951.7 L995.6 952.4 L996.0 952.8 L996.1 952.9 L996.6 953.3 L997.5 953.6 L999.0 953.7 L1000.5 953.7 L1002.0 951.7 L1003.5 951.8 L1005.0 946.8 L1005.9 942.5 L1006.4 939.5 L1006.5 938.9 L1006.9 936.9 L1007.4 933.9 L1007.9 930.1 L1008.0 929.2 L1008.4 924.6 L1008.9 917.7 L1009.4 909.3 L1009.5 907.3 L1009.9 899.1 L1010.4 886.7 L1010.9 871.3 L1011.0 867.9 L1011.4 852.3 L1011.9 829.6 L1012.4 803.4 L1012.5 797.8 L1012.9 774.3 L1013.4 744.3 L1013.9 717.9 L1014.0 713.3 L1014.4 698.6 L1014.9 691.6 L1015.4 698.7 L1015.5 701.8 L1015.9 718.1 L1016.4 745.6 L1016.9 775.5 L1017.0 781.4 L1017.4 804.2 L1017.9 830.0 L1018.4 852.4 L1018.5 856.5 L1018.9 871.4 L1019.4 887.2 L1019.9 900.0 L1020.0 902.3 L1020.4 910.1 L1020.9 918.2 L1021.4 924.6 L1021.5 925.7 L1021.9 930.2 L1022.4 934.9 L1022.9 938.8 L1023.0 939.5 L1023.4 942.1 L1023.9 945.0 L1024.5 947.9 L1026.0 951.3 L1027.5 951.2 L1029.0 952.7 L1030.5 955.7 L1032.0 953.2 L1033.5 955.6 L1035.0 956.4 L1036.5 958.5 L1038.0 960.5 L1039.5 961.5 L1041.0 961.1 L1042.5 961.6 L1044.0 960.1 L1045.5 960.4 L1047.0 958.4 L1048.5 959.7 L1050.0 957.6 L1051.5 958.6 L1053.0 955.6 L1054.5 955.8 L1056.0 954.9 L1057.5 955.0 L1059.0 953.7 L1060.3 953.3 L1060.5 953.2 L1060.8 952.4 L1061.3 950.8 L1061.8 949.0 L1062.0 948.2 L1062.3 946.8 L1062.8 944.1 L1063.3 940.8 L1063.5 939.3 L1063.8 937.2 L1064.3 933.0 L1064.8 927.8 L1065.0 925.3 L1065.3 921.5 L1065.8 914.0 L1066.3 905.0 L1066.5 901.1 L1066.8 894.0 L1067.3 881.4 L1067.8 868.6 L1068.0 863.8 L1068.3 858.3 L1068.8 850.6 L1069.3 847.9 L1069.5 848.5 L1069.8 851.0 L1070.3 859.1 L1070.8 870.4 L1071.0 875.1 L1071.3 882.4 L1071.8 894.3 L1072.3 905.2 L1072.5 909.2 L1072.8 915.4 L1073.3 924.7 L1073.8 932.6 L1074.0 935.4 L1074.3 938.4 L1074.8 942.7 L1075.3 946.1 L1075.5 947.3 L1075.8 948.6 L1076.3 950.5 L1076.8 951.8 L1077.0 952.3 L1077.3 954.1 L1077.8 956.8 L1078.3 959.3 L1078.5 960.2 L1080.0 961.8 L1081.5 964.7 L1083.0 966.2 L1084.5 967.0 L1086.0 966.6 L1087.5 965.7 L1089.0 968.5 L1090.5 967.5 L1092.0 967.6 L1093.5 966.1 L1095.0 966.8 L1096.5 967.4 L1098.0 966.9 L1099.5 967.2 L1101.0 966.3 L1102.5 965.8 L1104.0 967.7 L1105.5 967.2 L1107.0 968.2 L1108.5 968.1 L1110.0 966.2 L1111.5 965.3 L1113.0 965.7 L1114.5 963.7 L1116.0 959.5 L1117.5 958.0 L1117.8 956.7 L1118.3 954.3 L1118.8 951.5 L1119.0 950.3 L1119.3 948.4 L1119.8 944.9 L1120.3 940.7 L1120.5 938.7 L1120.8 935.3 L1121.3 928.7 L1121.8 920.7 L1122.0 917.0 L1122.3 911.4 L1122.8 900.4 L1123.3 887.2 L1123.5 881.3 L1123.8 871.8 L1124.3 854.3 L1124.8 835.2 L1125.0 827.5 L1125.3 815.9 L1125.8 798.1 L1126.3 785.9 L1126.5 783.1 L1126.8 781.5 L1127.3 786.0 L1127.8 798.4 L1128.0 806.2 L1128.3 817.1 L1128.8 836.5 L1129.3 855.8 L1129.5 863.2 L1129.8 873.4 L1130.3 888.7 L1130.8 901.7 L1131.0 906.3 L1131.3 913.0 L1131.8 922.8 L1132.3 930.8 L1132.5 933.6 L1132.8 937.3 L1133.3 942.5 L1133.8 946.7 L1134.0 948.2 L1134.3 950.2 L1134.8 953.0 L1135.3 955.4 L1135.5 956.2 L1135.8 957.4 L1137.0 961.3 L1138.5 964.6 L1140.0 965.8 L1141.5 967.1 L1143.0 967.4 L1144.5 967.9 L1146.0 965.4 L1147.5 964.8 L1149.0 961.6 L1150.5 963.6 L1150.8 963.5 L1151.3 963.3 L1151.8 962.9 L1152.0 962.8 L1152.3 962.3 L1152.8 961.5 L1153.3 960.5 L1153.5 960.1 L1153.8 959.6 L1154.3 958.6 L1154.8 957.4 L1155.0 956.8 L1155.3 955.6 L1155.8 953.3 L1156.3 950.7 L1156.5 949.5 L1156.8 947.8 L1157.3 944.6 L1157.8 941.3 L1158.0 939.9 L1158.3 937.7 L1158.8 935.5 L1159.3 933.4 L1159.5 932.9 L1159.8 932.6 L1160.3 933.3 L1160.8 935.4 L1161.0 935.4 L1161.3 937.1 L1161.8 940.2 L1162.3 943.3 L1162.5 944.5 L1162.8 946.8 L1163.3 950.5 L1163.8 953.7 L1164.0 954.9 L1164.3 956.0 L1164.8 957.5 L1165.3 958.7 L1165.5 959.1 L1165.8 959.6 L1166.3 960.2 L1166.8 960.7 L1167.0 960.8 L1167.3 961.1 L1167.8 961.5 L1168.3 961.8 L1168.5 961.9 L1168.8 962.3 L1170.0 963.9 L1171.5 963.2 L1173.0 962.1 L1174.5 962.7 L1176.0 962.7 L1177.5 962.4 L1179.0 961.3 L1180.5 957.5 L1182.0 956.3 L1183.5 951.2 L1185.0 949.3 L1186.5 948.6 L1188.0 948.9 L1189.5 956.0 L1191.0 959.2 L1192.5 959.6 L1194.0 962.9 L1195.5 963.7 L1197.0 966.4 L1198.5 967.4 L1200.0 967.3 L1201.5 969.5 L1203.0 971.7 L1204.5 972.1 L1206.0 970.7 L1207.5 971.2 L1209.0 970.6 L1210.5 969.2 L1212.0 969.1 L1213.5 966.7 L1215.0 964.5 L1216.5 967.2 L1218.0 964.1 L1219.5 965.9 L1221.0 965.4 L1222.5 968.4 L1224.0 967.6 L1225.5 969.2 L1227.0 969.2 L1228.5 970.5 L1230.0 970.9 L1231.5 970.0 L1233.0 970.2 L1234.5 969.5 L1236.0 969.5 L1237.5 968.6 L1239.0 969.9 L1240.5 967.6 L1242.0 970.2 L1243.5 969.5 L1245.0 969.5 L1246.5 970.5 L1248.0 967.8 L1249.5 968.7 L1251.0 969.7 L1252.5 968.5 L1254.0 968.8 L1255.5 967.6 L1257.0 966.3 L1258.5 967.2 L1260.0 966.4 L1261.5 966.0 L1263.0 965.4 L1264.5 966.1 L1266.0 963.8 L1267.5 965.2 L1269.0 968.0 L1270.5 966.9 L1272.0 968.6 L1273.5 970.1 L1275.0 970.1 L1276.5 970.8 L1278.0 970.6 L1279.5 969.0 L1281.0 971.2 L1282.5 971.3 L1284.0 970.8 L1285.5 970.0 L1287.0 970.5 L1288.5 970.9 L1290.0 969.8 L1291.5 969.6 L1293.0 969.0 L1294.5 970.3 L1296.0 968.7 L1297.5 969.3 L1299.0 970.8 L1300.5 967.7 L1302.0 969.0 L1303.5 970.8 L1305.0 969.8 L1306.5 971.3 L1308.0 969.3 L1309.5 969.7 L1311.0 971.6 L1312.5 969.8 L1314.0 970.7 L1315.5 970.4 L1317.0 971.9 L1318.5 969.5 L1320.0 970.3 L1321.5 970.5 L1323.0 970.1 L1324.5 967.9 L1325.4 967.2 L1325.9 966.6 L1326.0 966.5 L1326.4 965.4 L1326.9 963.9 L1327.4 962.2 L1327.5 961.8 L1327.9 961.2 L1328.4 960.1 L1328.9 958.6 L1329.0 958.2 L1329.4 955.6 L1329.9 951.9 L1330.4 947.7 L1330.5 946.8 L1330.9 943.2 L1331.4 938.3 L1331.9 932.8 L1332.0 931.7 L1332.4 927.3 L1332.9 921.9 L1333.4 915.6 L1333.5 914.8 L1333.9 912.3 L1334.4 911.1 L1334.9 912.4 L1335.0 912.9 L1335.4 915.8 L1335.9 921.0 L1336.4 926.7 L1336.5 927.9 L1336.9 932.8 L1337.4 938.7 L1337.9 944.0 L1338.0 945.0 L1338.4 948.7 L1338.9 952.8 L1339.4 956.4 L1339.5 957.0 L1339.9 958.6 L1340.4 960.1 L1340.9 961.3 L1341.0 961.4 L1341.4 962.7 L1341.9 964.0 L1342.4 965.0 L1342.5 965.2 L1342.9 966.6 L1343.4 968.1 L1344.0 969.8 L1345.5 970.5 L1347.0 971.7 L1348.5 974.2 L1350.0 972.7 L1351.5 973.2 L1353.0 974.7 L1354.5 973.1 L1356.0 974.1 L1357.5 974.0 L1359.0 974.4 L1360.5 974.6 L1362.0 973.3 L1363.5 974.0 L1365.0 973.9 L1366.5 973.3 L1368.0 974.5 L1369.5 973.1 L1371.0 972.2 L1372.5 971.4 L1374.0 972.0 L1375.5 970.9 L1377.0 971.9 L1378.5 972.0 L1380.0 970.2 L1381.5 969.5 L1383.0 969.3 L1384.5 969.0 L1386.0 965.0 L1387.5 963.4 L1389.0 958.8 L1390.5 953.2 L1392.0 953.0 L1393.5 952.2 L1395.0 952.8 L1396.5 958.6 L1398.0 964.2 L1399.5 967.8 L1401.0 966.2 L1402.5 966.0 L1404.0 964.7 L1405.5 963.7 L1407.0 963.8 L1408.5 963.0 L1410.0 961.3 L1411.5 963.0 L1413.0 957.3 L1414.5 960.9 L1416.0 958.5 L1417.5 961.6 L1419.0 965.9 L1420.5 968.9 L1422.0 971.6 L1422.5 970.9 L1423.0 969.4 L1423.5 967.7 L1424.0 967.8 L1424.5 967.6 L1425.0 967.3 L1425.5 964.7 L1426.0 961.7 L1426.5 958.4 L1427.0 956.0 L1427.5 953.1 L1428.0 949.8 L1428.5 945.9 L1429.0 941.6 L1429.5 937.2 L1430.0 932.2 L1430.5 927.5 L1431.0 924.8 L1431.5 923.9 L1432.0 924.9 L1432.5 927.5 L1433.0 931.7 L1433.5 936.6 L1434.0 941.6 L1434.5 945.9 L1435.0 949.9 L1435.5 953.4 L1436.0 956.4 L1436.5 958.9 L1437.0 961.0 L1437.5 963.7 L1438.0 966.1 L1438.5 968.2 L1439.0 969.4 L1439.5 970.5 L1440.0 970.9 L1440.5 971.0 L1441.5 970.9 L1443.0 970.6 L1444.5 970.7 L1446.0 969.8 L1447.5 969.1 L1449.0 967.3 L1450.5 963.8 L1452.0 964.4 L1453.5 962.5 L1455.0 960.9 L1456.5 960.6 L1458.0 957.9 L1459.5 958.0 L1461.0 963.4 L1462.5 965.0 L1464.0 966.2 L1465.5 965.7 L1467.0 969.1 L1468.5 967.9 L1470.0 970.8 L1471.5 969.9 L1473.0 971.3 L1474.5 968.4 L1476.0 971.1 L1477.5 969.7 L1479.0 969.0 L1480.5 969.7 L1482.0 972.4 L1483.5 969.1 L1485.0 967.8 L1486.5 970.2 L1488.0 968.1 L1489.5 968.6 L1491.0 970.0 L1492.5 969.2 L1494.0 968.6 L1495.5 968.8 L1497.0 967.4 L1498.5 966.0 L1500.0 967.2 L1501.5 967.3 L1503.0 968.0 L1504.5 968.3 L1506.0 969.1 L1507.5 969.8 L1509.0 968.5 L1510.5 968.9 L1512.0 969.4 L1513.5 970.1 L1515.0 968.3 L1516.5 966.2 L1518.0 967.6 L1519.5 963.6 L1520.5 962.2 L1521.0 961.2 L1521.5 959.7 L1522.0 957.9 L1522.5 955.7 L1523.0 953.5 L1523.5 950.8 L1524.0 947.5 L1524.5 942.5 L1525.0 936.8 L1525.5 930.4 L1526.0 924.8 L1526.5 918.6 L1527.0 911.8 L1527.5 903.3 L1528.0 895.3 L1528.5 888.8 L1529.0 884.5 L1529.5 883.1 L1530.0 884.7 L1530.5 889.2 L1531.0 896.0 L1531.5 903.2 L1532.0 912.3 L1532.5 921.3 L1533.0 929.6 L1533.5 935.5 L1534.0 940.6 L1534.5 945.0 L1535.0 949.3 L1535.5 952.9 L1536.0 956.1 L1536.5 958.7 L1537.0 960.9 L1537.5 962.8 L1538.0 963.9 L1538.5 964.9 L1539.0 965.4 L1540.5 971.1 L1542.0 969.2 L1543.5 971.3 L1545.0 972.1 L1546.5 972.0 L1548.0 971.1 L1549.5 970.2 L1551.0 971.0 L1552.5 969.9 L1554.0 968.0 L1555.5 968.4 L1557.0 970.3 L1558.5 971.1 L1560.0 968.4 L1561.5 971.3 L1563.0 971.2 L1564.5 972.7 L1566.0 972.3 L1567.5 972.3 L1569.0 973.7 L1570.5 974.2 L1572.0 974.4 L1573.5 973.4 L1575.0 973.9 L1576.5 975.0 L1578.0 973.3 L1579.5 972.6 L1581.0 973.6 L1582.5 972.2 L1584.0 973.8 L1585.5 971.9 L1587.0 972.0 L1588.5 972.9 L1590.0 970.5 L1591.5 970.3 L1593.0 970.0 L1594.5 968.9 L1596.0 965.8 L1597.5 965.8 L1599.0 961.7 L1600.5 957.2 L1601.0 955.2 L1601.5 952.8 L1602.0 950.0 L1602.5 946.5 L1603.0 942.3 L1603.5 937.3 L1604.0 931.2 L1604.5 924.1 L1605.0 915.8 L1605.5 906.6 L1606.0 896.1 L1606.5 884.2 L1607.0 870.8 L1607.5 856.5 L1608.0 842.0 L1608.5 828.1 L1609.0 817.0 L1609.5 809.6 L1610.0 807.0 L1610.5 809.8 L1611.0 817.5 L1611.5 828.0 L1612.0 841.7 L1612.5 856.4 L1613.0 870.7 L1613.5 884.1 L1614.0 896.4 L1614.5 907.5 L1615.0 917.4 L1615.5 925.9 L1616.0 932.5 L1616.5 938.1 L1617.0 942.7 L1617.5 947.9 L1618.0 952.4 L1618.5 956.3 L1619.0 959.3 L1620.0 960.9 L1621.5 960.4 L1623.0 962.0 L1624.5 963.0 L1626.0 967.5 L1627.5 966.0 L1629.0 967.0 L1630.5 968.2 L1632.0 967.2 L1633.5 967.7 L1635.0 969.2 L1636.5 970.4 L1638.0 969.1 L1639.5 969.6 L1641.0 969.4 L1642.5 968.8 L1644.0 967.4 L1645.5 968.8 L1647.0 967.2 L1648.5 966.1 L1650.0 965.6 L1651.5 967.0 L1653.0 965.8 L1654.5 964.6 L1656.0 964.6 L1657.5 962.4 L1659.0 959.7 L1660.5 956.6 L1662.0 955.4 L1663.5 953.6 L1665.0 950.2 L1666.5 951.2 L1668.0 947.4 L1669.5 946.6 L1671.0 947.7 L1672.5 952.6 L1674.0 953.9 L1675.5 954.3 L1677.0 953.9 L1678.5 955.4 L1680.0 955.5 L1681.5 956.9 L1683.0 960.1 L1684.5 961.9 L1686.0 965.8 L1687.5 967.5 L1689.0 970.4 L1690.5 971.3 L1692.0 971.8 L1693.5 969.7 L1695.0 970.9 L1696.5 970.7 L1698.0 970.7 L1699.5 971.5 L1701.0 973.4 L1702.5 973.4 L1704.0 974.3 L1705.5 973.2 L1707.0 972.5 L1708.5 971.1 L1710.0 970.5 L1711.5 969.9 L1713.0 968.9 L1714.5 967.8 L1716.0 968.5 L1717.5 968.8 L1719.0 965.6 L1720.5 964.3 L1722.0 965.2 L1723.5 963.0 L1725.0 960.5 L1726.5 961.3 L1728.0 959.3 L1729.5 962.9 L1731.0 963.7 L1732.5 964.4 L1734.0 967.2 L1735.5 967.8 L1737.0 970.1 L1738.5 968.9 L1740.0 970.6 L1741.5 969.9 L1743.0 971.8 L1744.5 972.7 L1746.0 972.8 L1747.5 973.0 L1749.0 971.1 L1750.5 973.9 L1752.0 973.8 L1753.5 972.3 L1755.0 972.6 L1756.5 973.3 L1758.0 971.0 L1759.5 972.3 L1761.0 973.0 L1762.5 973.1 L1764.0 973.1 L1765.5 971.7 L1767.0 973.6 L1768.5 973.6 L1770.0 973.3 L1771.5 972.3 L1773.0 972.0 L1774.5 972.8 L1776.0 973.4 L1777.5 972.1 L1779.0 972.7 L1780.5 973.6 L1782.0 973.3 L1783.5 971.3 L1785.0 969.5 L1786.5 970.3 L1788.0 968.2 L1789.5 967.7 L1791.0 969.0 L1792.5 967.8 L1794.0 965.7 L1795.5 965.8 L1797.0 965.2 L1798.5 964.9 L1800.0 965.4 L1801.5 965.0 L1803.0 963.5 L1804.5 966.9 L1806.0 967.3 L1807.5 968.5 L1809.0 969.6 L1810.5 970.4 L1812.0 971.3 L1813.5 971.1 L1815.0 968.8 L1816.5 966.8 L1818.0 964.0 L1819.5 961.5 L1821.0 957.9 L1822.5 952.8 L1824.0 951.2 L1825.5 946.3 L1827.0 942.9 L1828.5 941.1 L1830.0 942.6 L1831.5 950.0 L1833.0 951.1 L1834.5 956.3 L1836.0 958.3 L1837.5 958.1 L1839.0 957.5 L1840.5 958.2 L1842.0 959.1 L1843.5 958.7 L1845.0 958.3 L1846.5 958.8 L1848.0 961.6 L1849.5 961.2 L1851.0 961.9 L1852.5 962.9 L1854.0 963.1 L1855.5 962.8 L1857.0 966.5 L1858.5 964.9 L1860.0 966.3 L1861.5 967.0 L1863.0 968.7 L1864.5 968.2 L1866.0 967.7 L1867.5 968.5 L1869.0 969.7 L1870.5 972.1 L1872.0 973.3 L1873.5 972.7 L1875.0 971.7 L1876.5 970.1 L1878.0 967.0 L1879.5 963.7 L1881.0 960.8 L1882.5 958.8 L1884.0 955.6 L1885.5 951.5 L1887.0 947.1 L1888.5 942.1 L1890.0 943.7 L1891.5 942.6 L1893.0 950.5 L1894.5 956.8 L1896.0 958.6 L1897.5 960.3 L1899.0 965.0 L1900.5 965.4 L1902.0 967.0 L1903.5 969.0 L1905.0 968.7 L1906.5 967.6 L1908.0 969.3 L1909.5 969.5 L1911.0 971.0 L1912.5 971.8 L1914.0 969.5 L1915.5 970.8 L1917.0 973.4 L1918.5 972.4 L1920.0 972.9 L1921.5 972.5 L1923.0 971.3 L1924.5 968.0 L1926.0 966.3 L1927.5 963.9 L1929.0 961.0 L1930.5 957.3 L1932.0 952.7 L1933.5 949.0 L1935.0 944.6 L1936.5 941.1 L1938.0 938.1 L1939.5 938.1 L1941.0 941.1 L1942.5 947.6 L1944.0 953.4 L1945.5 957.7 L1947.0 959.8 L1948.5 964.9 L1950.0 965.6 L1951.5 968.0 L1953.0 967.6 L1954.5 966.9 L1956.0 969.4 L1957.5 968.9 L1959.0 968.7 L1960.5 968.1 L1962.0 969.5 L1963.5 970.5 L1965.0 971.2 L1966.5 970.7 L1968.0 970.6 L1969.5 970.8 L1971.0 971.9 L1972.5 971.0 L1974.0 972.2 L1975.5 970.6 L1977.0 974.2 L1978.5 973.9 L1980.0 972.5 L1981.5 971.7 L1983.0 972.4 L1984.5 971.2 L1986.0 970.4 L1987.5 970.1 L1989.0 969.7 L1990.5 968.6 L1992.0 970.0 L1993.5 966.8 L1995.0 967.1 L1996.5 965.5 L1998.0 962.7 L1999.5 963.3 L2001.0 959.6 L2002.5 959.4 L2004.0 958.1 L2005.5 958.6 L2007.0 959.6 L2008.5 963.3 L2010.0 964.7 L2011.5 967.0 L2013.0 968.5 L2014.5 969.7 L2016.0 969.8 L2017.5 971.9 L2019.0 972.4 L2020.5 973.5 L2022.0 973.0 L2023.5 973.0 L2025.0 972.9 L2026.5 972.2 L2028.0 973.0 L2029.5 973.5 L2031.0 972.2 L2032.5 972.6 L2034.0 973.1 L2035.5 972.3 L2037.0 972.1 L2038.5 972.5 L2040.0 972.5 L2041.5 973.6 L2043.0 972.3 L2044.5 972.9 L2046.0 972.0 L2047.5 972.9 L2049.0 971.8 L2050.5 970.5 L2052.0 966.7 L2053.5 966.6 L2055.0 964.2 L2056.5 963.9 L2058.0 962.9 L2059.5 962.0 L2061.0 962.7 L2062.5 964.4 L2064.0 966.3 L2065.5 968.0 L2067.0 970.2 L2068.5 971.8 L2070.0 970.0 L2071.5 971.8 L2073.0 972.1 L2074.5 972.9 L2076.0 972.4 L2077.5 974.8 L2079.0 974.1 L2080.5 972.6 L2082.0 972.8 L2083.5 971.3 L2085.0 969.2 L2086.5 970.3 L2088.0 970.2 L2089.5 969.0 L2091.0 969.2 L2092.5 969.8 L2094.0 967.0 L2095.5 965.7 L2097.0 963.6 L2098.5 963.6 L2100.0 962.8 L2101.5 963.9 L2103.0 963.0 L2104.5 964.0 L2106.0 965.3 L2107.5 968.5 L2109.0 969.5 L2110.5 969.2 L2112.0 973.7 L2113.5 970.6 L2115.0 971.2 L2116.5 973.1 L2118.0 972.6 L2119.5 972.6 L2121.0 972.9 L2122.5 974.1 L2124.0 973.6 L2125.5 973.2 L2127.0 971.9 L2128.5 973.5 L2130.0 971.3 L2131.5 972.0 L2133.0 971.7 L2134.5 967.6 L2136.0 966.9 L2137.5 966.0"/></defs>
<g fill="none" stroke="#ffaa00" stroke-linejoin="bevel" stroke-linecap="butt"><use href="#c2" stroke-width="12.5" stroke-opacity="0.35"/><use href="#c2" y="-0.7" stroke-width="8.0"/><use href="#c2" y="0.7" stroke-width="8.0"/></g>
<defs><path id="c3" d="M252.0 1302.7 L253.5 1302.0 L255.0 1302.5 L256.5 1303.3 L258.0 1302.6 L259.5 1303.4 L261.0 1303.0 L262.5 1303.5 L264.0 1301.3 L265.5 1301.6 L267.0 1301.2 L268.5 1302.9 L270.0 1302.2 L271.5 1303.2 L273.0 1302.7 L274.5 1302.6 L276.0 1304.4 L277.5 1303.1 L279.0 1302.5 L280.5 1301.7 L282.0 1303.7 L283.5 1303.5 L285.0 1301.7 L286.5 1302.6 L288.0 1303.0 L289.5 1301.3 L291.0 1302.6 L292.5 1304.1 L294.0 1301.4 L295.5 1303.3 L297.0 1304.6 L298.5 1302.4 L300.0 1302.6 L301.5 1303.2 L303.0 1303.5 L304.5 1303.4 L306.0 1301.7 L307.5 1302.4 L309.0 1303.2 L310.5 1302.8 L312.0 1304.1 L313.5 1302.8 L315.0 1302.8 L316.5 1304.8 L318.0 1303.1 L319.5 1302.3 L321.0 1303.2 L322.5 1303.0 L324.0 1303.9 L325.5 1303.7 L327.0 1303.0 L328.5 1302.9 L330.0 1302.8 L331.5 1304.5 L333.0 1305.2 L334.5 1303.3 L336.0 1303.9 L337.5 1303.7 L339.0 1302.9 L340.5 1302.9 L342.0 1303.0 L343.5 1301.7 L345.0 1302.8 L346.5 1303.9 L348.0 1304.3 L349.5 1303.3 L351.0 1303.2 L352.5 1304.1 L354.0 1305.4 L355.5 1302.7 L357.0 1302.9 L358.5 1303.2 L360.0 1304.1 L361.5 1302.9 L363.0 1304.1 L364.5 1303.0 L366.0 1304.2 L367.5 1303.4 L369.0 1303.3 L370.5 1304.4 L372.0 1302.7 L373.5 1303.1 L375.0 1304.4 L376.5 1304.5 L378.0 1304.0 L379.5 1301.8 L381.0 1304.5 L382.5 1304.1 L384.0 1303.5 L385.5 1302.1 L387.0 1304.6 L388.5 1305.5 L390.0 1304.4 L391.5 1305.1 L393.0 1303.3 L394.5 1304.1 L396.0 1303.4 L397.5 1303.0 L399.0 1303.7 L400.5 1303.2 L402.0 1303.3 L403.5 1303.3 L405.0 1303.6 L406.5 1303.7 L408.0 1304.0 L409.5 1302.8 L411.0 1304.2 L412.5 1302.3 L414.0 1303.9 L415.5 1303.9 L417.0 1301.8 L418.5 1303.5 L420.0 1304.8 L421.5 1304.2 L423.0 1303.4 L424.5 1303.3 L426.0 1304.0 L427.5 1303.9 L429.0 1304.5 L430.5 1303.9 L432.0 1304.5 L433.5 1304.1 L435.0 1303.0 L436.5 1302.7 L438.0 1303.2 L439.5 1304.0 L441.0 1302.8 L442.5 1304.4 L444.0 1302.2 L445.5 1303.3 L447.0 1302.7 L448.5 1303.7 L450.0 1303.3 L451.5 1302.8 L453.0 1301.6 L454.5 1301.6 L456.0 1301.6 L457.5 1302.8 L459.0 1301.1 L460.5 1301.8 L462.0 1301.9 L463.5 1300.1 L465.0 1300.0 L466.5 1298.1 L468.0 1299.3 L469.5 1299.7 L471.0 1297.6 L472.5 1298.2 L473.4 1298.1 L473.9 1298.0 L474.0 1297.9 L474.4 1297.6 L474.9 1297.1 L475.4 1296.5 L475.5 1296.4 L475.9 1295.8 L476.4 1294.9 L476.9 1293.8 L477.0 1293.6 L477.4 1292.8 L477.9 1291.5 L478.4 1289.8 L478.5 1289.3 L478.9 1286.9 L479.4 1283.1 L479.9 1278.3 L480.0 1277.2 L480.4 1272.5 L480.9 1265.8 L481.4 1259.3 L481.5 1257.9 L481.9 1253.5 L482.4 1251.3 L482.9 1253.6 L483.0 1254.5 L483.4 1259.4 L483.9 1267.1 L484.4 1273.0 L484.5 1274.1 L484.9 1278.6 L485.4 1283.2 L485.9 1286.7 L486.0 1287.3 L486.4 1289.6 L486.9 1291.9 L487.4 1293.7 L487.5 1294.0 L487.9 1295.0 L488.4 1295.9 L488.9 1296.7 L489.0 1296.8 L489.4 1297.4 L489.9 1298.0 L490.4 1298.6 L490.5 1298.7 L490.9 1298.6 L491.4 1298.4 L492.0 1298.2 L493.5 1298.3 L495.0 1298.4 L496.5 1300.0 L498.0 1300.2 L499.5 1298.5 L501.0 1298.6 L502.5 1298.8 L504.0 1297.8 L505.5 1298.0 L507.0 1299.1 L508.5 1297.0 L510.0 1298.2 L511.5 1298.6 L513.0 1296.3 L514.5 1298.0 L516.0 1296.7 L517.5 1295.9 L519.0 1296.9 L520.5 1295.9 L522.0 1295.2 L522.9 1294.6 L523.4 1294.4 L523.5 1294.3 L523.9 1294.1 L524.4 1293.8 L524.9 1293.5 L525.0 1293.4 L525.4 1293.2 L525.9 1292.9 L526.4 1292.4 L526.5 1292.2 L526.9 1291.7 L527.4 1290.8 L527.9 1289.5 L528.0 1289.2 L528.4 1287.9 L528.9 1285.8 L529.4 1283.0 L529.5 1282.3 L529.9 1278.9 L530.4 1274.2 L530.9 1269.4 L531.0 1268.6 L531.4 1265.8 L531.9 1264.4 L532.4 1265.9 L532.5 1266.5 L532.9 1269.7 L533.4 1274.3 L533.9 1278.7 L534.0 1279.5 L534.4 1282.8 L534.9 1286.3 L535.4 1289.1 L535.5 1289.6 L535.9 1291.0 L536.4 1292.3 L536.9 1293.3 L537.0 1293.4 L537.4 1294.5 L537.9 1295.6 L538.4 1296.5 L538.5 1296.7 L538.9 1296.8 L539.4 1296.9 L539.9 1296.9 L540.0 1296.9 L540.4 1296.7 L540.9 1296.4 L541.5 1296.0 L543.0 1297.9 L544.5 1297.8 L546.0 1299.2 L547.5 1298.4 L549.0 1299.2 L550.5 1299.1 L552.0 1297.8 L553.5 1298.1 L555.0 1298.4 L556.5 1297.4 L558.0 1301.4 L559.5 1298.7 L561.0 1297.1 L562.5 1296.9 L564.0 1298.2 L565.5 1297.7 L567.0 1296.6 L568.5 1296.4 L570.0 1297.9 L571.5 1297.4 L573.0 1298.2 L574.5 1297.6 L576.0 1298.7 L577.5 1296.0 L579.0 1298.1 L580.5 1296.8 L582.0 1296.6 L583.5 1298.3 L585.0 1295.6 L586.5 1297.2 L588.0 1296.9 L589.5 1298.2 L591.0 1295.8 L592.5 1297.3 L594.0 1297.4 L595.5 1296.9 L597.0 1296.9 L598.5 1296.6 L600.0 1295.4 L601.5 1295.9 L603.0 1294.4 L604.5 1296.7 L606.0 1296.4 L607.5 1294.0 L609.0 1296.1 L610.5 1294.6 L612.0 1293.1 L613.5 1293.5 L615.0 1294.4 L616.5 1293.5 L618.0 1292.4 L619.5 1293.6 L621.0 1292.8 L622.5 1292.5 L624.0 1291.8 L625.5 1293.3 L627.0 1293.6 L628.5 1291.9 L630.0 1292.5 L631.5 1292.5 L633.0 1292.8 L634.5 1291.7 L636.0 1294.4 L637.5 1292.9 L639.0 1293.4 L640.5 1292.3 L642.0 1294.4 L643.5 1292.9 L645.0 1290.8 L646.5 1293.3 L648.0 1292.3 L649.5 1291.4 L651.0 1292.3 L652.5 1291.5 L654.0 1292.9 L655.5 1292.8 L657.0 1290.9 L658.5 1292.7 L660.0 1293.1 L661.5 1289.8 L663.0 1293.2 L664.5 1292.6 L666.0 1292.7 L667.5 1293.2 L669.0 1291.9 L670.5 1291.1 L672.0 1292.2 L673.5 1291.7 L675.0 1292.2 L676.5 1289.6 L678.0 1291.2 L679.5 1293.8 L681.0 1291.7 L682.5 1292.2 L684.0 1291.5 L685.5 1290.7 L687.0 1291.7 L688.5 1291.5 L690.0 1290.4 L691.5 1290.5 L693.0 1291.2 L694.5 1289.7 L696.0 1289.6 L697.5 1291.3 L699.0 1291.2 L700.5 1289.9 L702.0 1291.4 L703.5 1290.6 L705.0 1290.1 L706.5 1289.2 L708.0 1290.3 L709.5 1289.0 L711.0 1289.3 L712.5 1288.7 L714.0 1290.2 L715.5 1289.2 L717.0 1289.0 L718.5 1289.5 L720.0 1291.0 L721.5 1289.6 L723.0 1287.2 L724.5 1288.5 L726.0 1288.4 L727.5 1287.7 L729.0 1287.3 L730.5 1289.6 L732.0 1288.6 L733.5 1288.7 L735.0 1288.1 L736.5 1288.4 L738.0 1288.0 L739.5 1287.6 L741.0 1287.2 L742.5 1286.4 L744.0 1286.5 L745.5 1287.0 L747.0 1286.1 L748.5 1287.1 L750.0 1285.7 L751.5 1286.8 L753.0 1284.5 L754.5 1285.7 L756.0 1286.2 L757.5 1285.5 L759.0 1283.9 L760.5 1285.2 L762.0 1283.7 L763.5 1283.7 L765.0 1283.0 L766.5 1280.0 L768.0 1280.6 L769.5 1279.0 L771.0 1277.8 L772.5 1275.1 L774.0 1276.7 L775.5 1276.1 L777.0 1276.8 L778.5 1278.2 L780.0 1280.5 L781.5 1281.2 L783.0 1284.1 L784.5 1283.5 L786.0 1283.6 L787.5 1282.1 L789.0 1281.1 L790.5 1280.3 L792.0 1281.3 L793.5 1282.4 L795.0 1282.1 L796.5 1279.2 L798.0 1280.7 L799.5 1280.8 L801.0 1279.0 L802.5 1279.7 L804.0 1278.7 L805.5 1279.3 L807.0 1279.0 L808.5 1278.3 L810.0 1278.2 L811.5 1277.4 L813.0 1277.8 L814.5 1274.5 L816.0 1277.6 L817.5 1277.8 L819.0 1275.3 L820.5 1276.0 L822.0 1276.4 L823.5 1275.0 L825.0 1274.9 L826.5 1275.3 L828.0 1275.8 L829.5 1273.7 L831.0 1275.0 L832.5 1275.0 L834.0 1273.1 L835.5 1274.2 L837.0 1275.0 L838.5 1273.4 L840.0 1272.8 L841.5 1273.8 L843.0 1271.5 L844.5 1271.2 L846.0 1271.8 L847.5 1271.2 L849.0 1267.8 L850.5 1267.5 L852.0 1266.4 L853.5 1264.7 L855.0 1260.4 L856.0 1256.8 L856.5 1254.6 L857.0 1252.7 L857.5 1250.2 L858.0 1247.1 L858.5 1241.8 L859.0 1235.3 L859.5 1227.3 L860.0 1219.1 L860.5 1208.3 L861.0 1194.6 L861.5 1176.9 L862.0 1155.1 L862.5 1129.2 L863.0 1099.5 L863.5 1068.1 L864.0 1037.6 L864.5 1016.0 L865.0 1008.1 L865.5 1016.7 L866.0 1039.0 L866.5 1068.6 L867.0 1100.2 L867.5 1131.4 L868.0 1158.9 L868.5 1182.3 L869.0 1200.5 L869.5 1215.2 L870.0 1226.8 L870.5 1236.6 L871.0 1244.3 L871.5 1250.6 L872.0 1256.2 L872.5 1260.8 L873.0 1263.9 L873.5 1265.0 L874.0 1265.8 L874.5 1266.2 L876.0 1272.6 L877.5 1272.7 L879.0 1273.0 L880.5 1271.9 L882.0 1272.0 L883.5 1271.0 L885.0 1269.8 L886.5 1268.4 L888.0 1270.3 L889.5 1270.2 L891.0 1270.7 L892.5 1270.1 L894.0 1269.7 L895.5 1269.2 L897.0 1267.3 L898.5 1266.3 L900.0 1267.2 L901.5 1265.7 L903.0 1265.9 L904.3 1263.7 L904.5 1263.3 L904.8 1263.2 L905.3 1262.8 L905.8 1262.4 L906.0 1262.2 L906.3 1261.9 L906.8 1261.4 L907.3 1260.6 L907.5 1260.2 L907.8 1259.2 L908.3 1256.6 L908.8 1253.2 L909.0 1251.7 L909.3 1249.3 L909.8 1244.7 L910.3 1239.5 L910.5 1237.2 L910.8 1234.0 L911.3 1228.1 L911.8 1222.0 L912.0 1219.6 L912.3 1215.5 L912.8 1210.4 L913.3 1207.5 L913.5 1207.0 L913.8 1207.1 L914.3 1208.7 L914.8 1210.8 L915.0 1211.9 L915.3 1213.8 L915.8 1216.5 L916.3 1218.6 L916.5 1219.2 L916.8 1219.9 L917.3 1220.3 L917.8 1222.4 L918.0 1223.0 L918.3 1223.4 L918.4 1223.5 L918.8 1223.4 L918.9 1223.3 L919.3 1222.5 L919.4 1222.2 L919.5 1221.9 L919.8 1220.8 L919.9 1220.3 L920.3 1217.5 L920.4 1216.7 L920.8 1213.0 L920.9 1212.0 L921.0 1210.9 L921.3 1207.2 L921.4 1205.9 L921.8 1199.9 L921.9 1198.3 L922.3 1191.1 L922.4 1189.1 L922.5 1187.0 L922.9 1177.6 L923.4 1164.1 L923.9 1148.6 L924.0 1145.3 L924.4 1132.7 L924.9 1115.7 L925.4 1098.1 L925.5 1094.7 L925.9 1080.7 L926.4 1065.5 L926.9 1055.7 L927.0 1054.5 L927.4 1052.7 L927.9 1057.2 L928.4 1068.4 L928.5 1071.3 L928.9 1084.0 L929.4 1102.5 L929.9 1121.9 L930.0 1125.7 L930.4 1141.4 L930.9 1159.6 L931.4 1175.9 L931.5 1178.9 L931.9 1189.9 L932.0 1192.4 L932.4 1201.7 L932.5 1203.9 L932.9 1211.6 L933.0 1213.3 L933.4 1219.4 L933.5 1220.7 L933.9 1225.3 L934.0 1226.3 L934.4 1229.1 L934.5 1229.4 L934.9 1229.7 L935.0 1229.6 L935.4 1228.6 L935.5 1228.1 L935.9 1225.5 L936.0 1224.6 L936.4 1219.7 L936.5 1218.3 L937.0 1209.6 L937.5 1198.3 L938.0 1185.8 L938.5 1170.5 L939.0 1153.0 L939.5 1133.6 L940.0 1115.1 L940.5 1102.0 L941.0 1097.3 L941.5 1102.3 L942.0 1115.7 L942.5 1134.7 L943.0 1154.7 L943.5 1173.8 L944.0 1190.4 L944.5 1204.3 L945.0 1215.8 L945.5 1225.7 L946.0 1233.7 L946.5 1240.0 L947.0 1243.9 L947.5 1246.8 L948.0 1248.9 L948.5 1251.6 L949.0 1253.9 L949.5 1255.8 L950.0 1256.5 L951.0 1257.8 L952.5 1261.4 L954.0 1261.0 L955.5 1262.2 L957.0 1263.8 L958.5 1266.3 L960.0 1266.4 L961.5 1269.0 L963.0 1269.3 L964.5 1268.9 L966.0 1269.2 L967.5 1268.7 L969.0 1271.1 L970.5 1270.2 L972.0 1268.4 L973.5 1270.4 L975.0 1268.5 L976.5 1269.7 L978.0 1269.9 L979.5 1268.9 L981.0 1268.6 L982.5 1269.3 L984.0 1269.4 L985.5 1268.9 L987.0 1269.0 L988.5 1267.2 L990.0 1268.3 L991.5 1267.2 L993.0 1268.0 L994.5 1266.8 L996.0 1266.8 L997.5 1266.5 L999.0 1266.7 L1000.5 1266.5 L1002.0 1266.2 L1003.5 1266.4 L1005.0 1264.6 L1006.5 1266.4 L1008.0 1264.1 L1009.5 1263.1 L1011.0 1263.4 L1012.5 1261.9 L1014.0 1260.8 L1015.5 1260.0 L1017.0 1258.5 L1017.5 1259.3 L1018.0 1259.9 L1018.5 1260.3 L1019.0 1258.7 L1019.5 1256.7 L1020.0 1254.4 L1020.5 1252.5 L1021.0 1250.2 L1021.5 1247.2 L1022.0 1243.8 L1022.5 1239.5 L1023.0 1234.3 L1023.5 1227.7 L1024.0 1220.4 L1024.5 1212.9 L1025.0 1205.3 L1025.5 1200.5 L1026.0 1198.8 L1026.5 1200.8 L1027.0 1206.0 L1027.5 1211.7 L1028.0 1219.8 L1028.5 1227.8 L1029.0 1235.1 L1029.5 1241.1 L1030.0 1246.2 L1030.5 1250.4 L1031.0 1253.9 L1031.5 1256.8 L1032.0 1259.2 L1032.5 1261.2 L1033.0 1263.0 L1033.5 1264.4 L1034.0 1265.8 L1034.5 1267.0 L1035.0 1268.0 L1036.5 1270.5 L1038.0 1271.3 L1039.5 1271.1 L1041.0 1272.5 L1042.5 1273.1 L1044.0 1274.0 L1045.5 1273.0 L1047.0 1273.3 L1048.5 1273.4 L1050.0 1273.1 L1051.5 1274.5 L1053.0 1273.8 L1054.5 1275.2 L1056.0 1275.2 L1057.5 1274.5 L1059.0 1274.7 L1060.5 1274.1 L1062.0 1274.5 L1063.5 1274.3 L1065.0 1275.0 L1066.5 1273.3 L1068.0 1274.4 L1069.5 1273.6 L1071.0 1272.9 L1072.5 1271.0 L1074.0 1270.6 L1075.5 1270.7 L1077.0 1269.8 L1078.5 1267.4 L1080.0 1268.4 L1081.5 1266.8 L1083.0 1266.3 L1084.5 1263.8 L1086.0 1257.6 L1086.4 1255.4 L1086.9 1252.4 L1087.4 1248.8 L1087.5 1248.1 L1087.9 1245.5 L1088.4 1241.5 L1088.9 1236.7 L1089.0 1235.6 L1089.4 1230.2 L1089.9 1222.4 L1090.4 1213.2 L1090.5 1211.2 L1090.9 1202.8 L1091.4 1191.0 L1091.9 1177.5 L1092.0 1174.6 L1092.4 1162.3 L1092.9 1146.1 L1093.4 1129.5 L1093.5 1126.3 L1093.9 1113.3 L1094.4 1100.4 L1094.9 1091.6 L1095.0 1090.5 L1095.4 1088.6 L1095.9 1092.1 L1096.4 1101.4 L1096.5 1103.8 L1096.9 1114.7 L1097.4 1131.5 L1097.9 1149.1 L1098.0 1152.6 L1098.4 1166.1 L1098.9 1181.9 L1099.4 1196.3 L1099.5 1199.0 L1099.9 1208.6 L1100.4 1219.1 L1100.9 1228.1 L1101.0 1229.8 L1101.4 1236.2 L1101.9 1243.2 L1102.4 1249.2 L1102.5 1250.3 L1102.9 1254.3 L1103.4 1258.6 L1103.9 1262.3 L1104.0 1263.0 L1104.4 1265.4 L1105.5 1270.9 L1107.0 1277.6 L1108.5 1278.1 L1110.0 1276.4 L1111.5 1278.3 L1113.0 1280.7 L1114.5 1281.0 L1116.0 1281.9 L1117.5 1282.1 L1119.0 1281.0 L1120.5 1280.9 L1122.0 1280.8 L1123.5 1281.5 L1125.0 1282.5 L1126.5 1281.6 L1128.0 1283.8 L1129.5 1280.4 L1131.0 1281.5 L1132.5 1282.4 L1134.0 1283.0 L1135.5 1280.2 L1137.0 1281.0 L1138.5 1281.1 L1140.0 1278.3 L1141.5 1280.4 L1143.0 1279.4 L1144.5 1278.3 L1146.0 1278.9 L1147.5 1277.4 L1149.0 1275.1 L1150.5 1274.9 L1150.8 1274.0 L1151.3 1272.6 L1151.8 1271.0 L1152.0 1270.4 L1152.3 1270.0 L1152.8 1269.4 L1153.3 1268.6 L1153.5 1268.2 L1153.8 1266.6 L1154.3 1263.6 L1154.8 1260.3 L1155.0 1258.9 L1155.3 1257.9 L1155.8 1255.9 L1156.3 1253.4 L1156.5 1252.2 L1156.8 1249.6 L1157.3 1244.8 L1157.8 1239.6 L1158.0 1237.6 L1158.3 1234.8 L1158.8 1230.7 L1159.3 1227.5 L1159.5 1226.7 L1159.8 1226.0 L1160.3 1226.4 L1160.8 1228.5 L1161.0 1229.9 L1161.3 1232.1 L1161.8 1236.0 L1162.3 1239.9 L1162.5 1241.4 L1162.8 1243.0 L1163.3 1245.3 L1163.8 1247.1 L1164.0 1247.6 L1164.3 1248.8 L1164.8 1250.3 L1165.3 1251.3 L1165.5 1251.7 L1165.8 1251.9 L1166.3 1252.4 L1166.8 1252.8 L1166.9 1252.8 L1167.0 1252.9 L1167.3 1253.0 L1167.4 1253.1 L1167.8 1253.1 L1167.9 1253.0 L1168.3 1252.8 L1168.4 1252.7 L1168.5 1252.6 L1168.8 1252.0 L1168.9 1251.8 L1169.4 1250.5 L1169.9 1248.7 L1170.0 1248.3 L1170.4 1246.5 L1170.9 1243.7 L1171.4 1240.1 L1171.5 1239.2 L1171.9 1235.5 L1172.4 1229.9 L1172.9 1223.4 L1173.0 1221.9 L1173.4 1215.4 L1173.9 1206.6 L1174.4 1197.9 L1174.5 1196.2 L1174.9 1192.2 L1175.4 1187.3 L1175.9 1185.9 L1176.0 1186.1 L1176.4 1188.4 L1176.9 1194.3 L1177.4 1202.6 L1177.5 1204.4 L1177.9 1211.9 L1178.4 1221.1 L1178.9 1229.8 L1179.0 1231.4 L1179.4 1238.0 L1179.9 1245.4 L1180.4 1251.9 L1180.5 1253.1 L1180.9 1256.5 L1181.4 1260.1 L1181.9 1263.1 L1182.0 1263.6 L1182.4 1266.1 L1182.9 1268.7 L1183.4 1271.0 L1183.5 1271.4 L1183.9 1272.4 L1184.4 1273.6 L1184.9 1274.5 L1185.0 1274.7 L1186.5 1278.6 L1188.0 1280.7 L1189.5 1279.7 L1191.0 1280.4 L1192.5 1280.2 L1194.0 1280.9 L1195.5 1284.0 L1197.0 1281.5 L1198.5 1283.0 L1200.0 1284.1 L1201.5 1283.7 L1203.0 1284.0 L1204.5 1283.8 L1206.0 1284.9 L1207.5 1282.9 L1209.0 1283.9 L1210.5 1284.3 L1212.0 1282.8 L1213.5 1283.9 L1215.0 1284.5 L1216.5 1286.1 L1218.0 1284.2 L1219.5 1285.9 L1221.0 1284.3 L1222.5 1286.5 L1224.0 1284.7 L1225.5 1286.0 L1227.0 1287.8 L1228.5 1286.1 L1230.0 1286.6 L1231.5 1284.3 L1233.0 1285.9 L1234.5 1286.1 L1236.0 1285.3 L1237.5 1285.7 L1239.0 1284.5 L1240.5 1285.1 L1242.0 1284.5 L1243.5 1283.9 L1245.0 1285.1 L1246.5 1283.0 L1248.0 1283.3 L1249.5 1283.9 L1251.0 1281.0 L1252.5 1276.0 L1254.0 1272.0 L1255.5 1267.4 L1257.0 1264.5 L1258.5 1266.1 L1260.0 1268.1 L1261.5 1270.8 L1263.0 1274.7 L1264.5 1280.8 L1266.0 1280.3 L1267.5 1285.3 L1269.0 1284.7 L1270.5 1287.1 L1272.0 1286.9 L1273.5 1286.3 L1275.0 1285.7 L1276.5 1287.1 L1278.0 1287.0 L1279.5 1286.7 L1281.0 1288.7 L1282.5 1286.3 L1284.0 1286.0 L1285.5 1287.7 L1287.0 1289.2 L1288.5 1285.8 L1290.0 1286.2 L1291.5 1285.9 L1293.0 1286.6 L1294.5 1287.0 L1296.0 1285.6 L1297.5 1286.0 L1299.0 1285.3 L1300.5 1286.3 L1302.0 1285.9 L1303.5 1286.4 L1305.0 1285.8 L1306.5 1286.1 L1308.0 1284.5 L1309.5 1285.4 L1311.0 1285.5 L1312.5 1286.0 L1314.0 1284.8 L1315.5 1285.3 L1317.0 1286.6 L1318.5 1286.1 L1320.0 1285.1 L1321.5 1285.6 L1323.0 1284.2 L1324.5 1283.1 L1326.0 1281.0 L1327.5 1278.7 L1329.0 1277.5 L1330.5 1273.7 L1332.0 1273.3 L1333.5 1271.9 L1335.0 1271.8 L1336.5 1271.3 L1338.0 1275.2 L1339.5 1278.9 L1341.0 1281.2 L1342.5 1283.1 L1344.0 1284.8 L1345.5 1287.3 L1347.0 1287.9 L1348.5 1286.6 L1350.0 1288.3 L1351.5 1290.0 L1353.0 1288.7 L1354.5 1288.6 L1356.0 1289.8 L1357.5 1287.4 L1359.0 1287.1 L1360.5 1287.7 L1362.0 1288.5 L1363.5 1289.7 L1365.0 1289.0 L1366.5 1288.0 L1368.0 1289.4 L1369.5 1288.3 L1371.0 1288.3 L1372.5 1287.6 L1374.0 1286.5 L1375.5 1286.7 L1377.0 1285.6 L1378.5 1284.1 L1380.0 1284.8 L1381.5 1286.3 L1383.0 1284.4 L1384.5 1282.9 L1386.0 1283.5 L1387.5 1284.4 L1389.0 1281.0 L1390.5 1282.3 L1392.0 1277.8 L1393.5 1270.9 L1395.0 1268.5 L1396.5 1265.5 L1398.0 1257.5 L1399.5 1248.5 L1401.0 1242.4 L1402.5 1235.8 L1404.0 1226.9 L1405.5 1222.8 L1407.0 1217.4 L1408.5 1216.6 L1410.0 1215.2 L1411.5 1225.9 L1413.0 1238.3 L1414.5 1248.4 L1416.0 1256.9 L1417.5 1265.4 L1419.0 1275.5 L1420.5 1279.4 L1422.0 1282.7 L1423.5 1281.2 L1425.0 1283.5 L1426.5 1284.1 L1428.0 1284.4 L1429.5 1284.7 L1431.0 1286.3 L1432.5 1285.7 L1434.0 1285.1 L1435.5 1286.3 L1437.0 1286.9 L1438.5 1285.3 L1440.0 1288.1 L1441.5 1285.7 L1443.0 1287.9 L1444.5 1287.9 L1446.0 1286.2 L1447.5 1287.2 L1449.0 1286.1 L1450.5 1287.0 L1452.0 1285.7 L1453.5 1286.2 L1455.0 1286.0 L1456.5 1286.3 L1458.0 1284.2 L1459.5 1286.1 L1461.0 1282.4 L1462.5 1282.4 L1464.0 1281.3 L1465.5 1278.5 L1467.0 1276.8 L1468.5 1277.0 L1470.0 1273.4 L1471.5 1271.0 L1473.0 1269.2 L1474.5 1266.2 L1476.0 1262.7 L1477.5 1263.6 L1479.0 1266.5 L1480.5 1270.9 L1482.0 1272.9 L1483.5 1274.0 L1485.0 1275.2 L1486.5 1276.8 L1488.0 1274.1 L1489.5 1271.5 L1491.0 1270.3 L1492.5 1270.1 L1494.0 1269.3 L1495.5 1271.0 L1497.0 1272.6 L1498.5 1276.8 L1500.0 1278.1 L1501.5 1279.4 L1503.0 1284.1 L1504.5 1286.2 L1506.0 1285.1 L1507.5 1285.0 L1509.0 1285.2 L1510.5 1285.2 L1512.0 1285.2 L1513.5 1284.8 L1515.0 1284.8 L1516.5 1284.8 L1518.0 1284.7 L1519.5 1283.8 L1521.0 1282.3 L1522.3 1278.7 L1522.5 1278.1 L1522.8 1277.6 L1523.3 1276.7 L1523.8 1275.6 L1524.0 1275.0 L1524.3 1273.6 L1524.8 1270.8 L1525.3 1267.6 L1525.5 1266.2 L1525.8 1264.2 L1526.3 1260.5 L1526.8 1256.2 L1527.0 1254.3 L1527.3 1251.5 L1527.8 1246.3 L1528.3 1240.5 L1528.5 1238.1 L1528.8 1233.6 L1529.3 1226.2 L1529.8 1219.0 L1530.0 1216.4 L1530.3 1215.0 L1530.8 1211.3 L1531.3 1209.9 L1531.5 1210.1 L1531.8 1211.1 L1532.3 1214.7 L1532.8 1218.4 L1533.0 1220.7 L1533.3 1224.8 L1533.8 1232.0 L1534.3 1238.9 L1534.5 1241.6 L1534.8 1245.4 L1535.3 1251.3 L1535.8 1256.5 L1536.0 1258.4 L1536.3 1260.8 L1536.8 1264.5 L1537.3 1267.6 L1537.5 1268.7 L1537.8 1269.8 L1538.3 1271.4 L1538.8 1272.6 L1539.0 1273.0 L1539.3 1273.9 L1539.8 1275.2 L1540.3 1276.3 L1540.5 1276.6 L1542.0 1281.1 L1543.5 1281.3 L1545.0 1282.9 L1546.5 1280.4 L1548.0 1282.7 L1549.5 1281.0 L1551.0 1278.3 L1552.0 1278.0 L1552.5 1277.6 L1553.0 1277.2 L1553.5 1276.6 L1554.0 1275.9 L1554.5 1274.2 L1555.0 1272.3 L1555.5 1270.1 L1556.0 1267.4 L1556.5 1264.2 L1557.0 1260.8 L1557.5 1257.3 L1558.0 1253.6 L1558.5 1249.6 L1559.0 1246.4 L1559.5 1243.5 L1560.0 1240.1 L1560.5 1238.0 L1561.0 1237.1 L1561.5 1237.7 L1562.0 1239.7 L1562.5 1242.0 L1563.0 1245.3 L1563.5 1249.2 L1564.0 1252.9 L1564.5 1256.4 L1565.0 1259.4 L1565.5 1262.1 L1566.0 1264.3 L1566.5 1266.1 L1567.0 1267.6 L1567.5 1268.8 L1568.0 1270.3 L1568.5 1271.7 L1569.0 1272.8 L1569.5 1273.6 L1570.0 1274.3 L1570.5 1274.9 L1572.0 1272.4 L1573.5 1272.6 L1575.0 1268.6 L1576.5 1267.1 L1578.0 1264.9 L1579.5 1262.1 L1581.0 1259.8 L1582.5 1255.9 L1584.0 1255.7 L1585.5 1260.5 L1587.0 1266.2 L1588.5 1271.3 L1590.0 1272.7 L1591.5 1275.6 L1593.0 1278.9 L1594.5 1278.5 L1596.0 1280.7 L1597.5 1277.5 L1599.0 1279.8 L1600.5 1280.0 L1602.0 1277.7 L1603.5 1277.6 L1605.0 1277.5 L1606.5 1276.9 L1608.0 1276.9 L1609.5 1277.6 L1611.0 1280.6 L1612.5 1282.4 L1614.0 1282.3 L1615.5 1284.9 L1617.0 1284.5 L1618.5 1285.1 L1620.0 1286.6 L1621.5 1286.9 L1623.0 1289.5 L1624.5 1289.1 L1626.0 1289.1 L1627.5 1288.6 L1629.0 1286.6 L1630.5 1287.2 L1632.0 1287.6 L1633.5 1289.2 L1635.0 1286.9 L1636.5 1288.6 L1638.0 1285.7 L1639.5 1287.0 L1641.0 1287.1 L1642.5 1288.4 L1644.0 1288.2 L1645.5 1287.4 L1647.0 1287.6 L1648.5 1286.0 L1650.0 1285.5 L1651.5 1288.1 L1653.0 1289.6 L1654.5 1287.9 L1656.0 1286.5 L1657.5 1287.4 L1659.0 1285.2 L1660.5 1286.5 L1662.0 1286.1 L1663.5 1287.4 L1665.0 1286.1 L1666.5 1286.5 L1668.0 1284.1 L1669.5 1284.8 L1671.0 1284.0 L1672.5 1285.2 L1674.0 1284.4 L1675.5 1283.8 L1677.0 1280.9 L1678.5 1283.4 L1680.0 1280.6 L1681.5 1280.0 L1683.0 1281.4 L1684.5 1279.5 L1686.0 1278.2 L1687.5 1278.9 L1689.0 1278.9 L1690.5 1281.2 L1692.0 1284.5 L1693.5 1284.8 L1695.0 1285.7 L1696.5 1285.3 L1698.0 1286.6 L1699.5 1287.3 L1701.0 1286.6 L1702.5 1287.6 L1704.0 1284.8 L1705.5 1283.9 L1707.0 1283.7 L1708.5 1280.5 L1710.0 1277.6 L1711.5 1271.6 L1713.0 1268.8 L1714.5 1265.2 L1716.0 1259.7 L1717.5 1258.0 L1719.0 1257.2 L1720.5 1261.0 L1722.0 1266.4 L1723.5 1270.1 L1725.0 1272.3 L1726.5 1274.5 L1728.0 1277.5 L1729.5 1279.4 L1731.0 1277.9 L1732.5 1280.3 L1734.0 1280.6 L1735.5 1279.5 L1737.0 1279.8 L1738.5 1279.8 L1740.0 1279.5 L1741.5 1281.6 L1743.0 1283.1 L1744.5 1283.9 L1746.0 1284.1 L1747.5 1285.2 L1749.0 1287.2 L1750.5 1285.8 L1752.0 1284.0 L1753.5 1280.9 L1755.0 1280.8 L1756.5 1278.8 L1758.0 1277.8 L1759.5 1276.7 L1761.0 1279.2 L1762.5 1280.6 L1764.0 1283.2 L1765.5 1283.5 L1767.0 1285.9 L1768.5 1284.3 L1770.0 1282.5 L1771.5 1281.8 L1773.0 1279.7 L1774.5 1279.2 L1776.0 1277.9 L1777.5 1276.3 L1779.0 1275.1 L1780.5 1273.9 L1782.0 1271.4 L1783.5 1272.8 L1785.0 1271.9 L1786.5 1275.4 L1788.0 1280.7 L1789.5 1281.8 L1791.0 1282.5 L1792.5 1285.7 L1794.0 1283.5 L1795.5 1285.0 L1797.0 1285.1 L1798.5 1287.4 L1800.0 1287.2 L1801.5 1284.2 L1803.0 1282.8 L1804.5 1281.5 L1806.0 1280.8 L1807.5 1278.2 L1809.0 1275.5 L1810.5 1272.0 L1812.0 1268.1 L1813.5 1267.2 L1815.0 1264.8 L1816.5 1266.6 L1818.0 1269.8 L1819.5 1274.1 L1821.0 1277.3 L1822.5 1279.3 L1824.0 1281.5 L1825.5 1277.4 L1827.0 1275.0 L1828.5 1271.6 L1830.0 1266.6 L1831.5 1263.6 L1833.0 1263.9 L1834.5 1266.1 L1836.0 1271.8 L1837.5 1274.4 L1839.0 1278.6 L1840.5 1282.4 L1842.0 1282.5 L1843.5 1286.5 L1845.0 1288.5 L1846.5 1287.8 L1848.0 1286.8 L1849.5 1288.4 L1851.0 1289.3 L1852.5 1288.6 L1854.0 1285.9 L1855.5 1288.8 L1857.0 1286.5 L1858.5 1288.4 L1860.0 1286.9 L1861.5 1287.3 L1863.0 1287.5 L1864.5 1284.5 L1866.0 1285.8 L1867.5 1283.7 L1869.0 1283.5 L1870.5 1282.0 L1872.0 1281.0 L1873.5 1279.2 L1875.0 1278.7 L1876.5 1277.4 L1878.0 1273.6 L1879.5 1273.4 L1881.0 1270.6 L1882.5 1263.0 L1884.0 1258.7 L1885.5 1253.5 L1887.0 1248.8 L1888.5 1249.3 L1890.0 1254.3 L1891.5 1261.3 L1893.0 1270.4 L1894.5 1273.4 L1896.0 1276.3 L1897.5 1281.2 L1899.0 1283.9 L1900.5 1284.3 L1902.0 1285.4 L1903.5 1283.0 L1905.0 1285.6 L1906.5 1285.6 L1908.0 1285.5 L1909.5 1286.1 L1911.0 1286.1 L1912.5 1286.4 L1914.0 1284.7 L1915.5 1285.9 L1917.0 1286.7 L1918.5 1286.5 L1920.0 1286.2 L1921.5 1284.5 L1923.0 1286.0 L1924.5 1283.6 L1926.0 1283.3 L1927.5 1282.6 L1929.0 1280.5 L1930.5 1280.0 L1932.0 1279.0 L1933.5 1279.9 L1935.0 1280.2 L1936.5 1280.6 L1938.0 1279.7 L1939.5 1282.9 L1941.0 1284.0 L1942.5 1284.4 L1944.0 1283.8 L1945.5 1284.6 L1947.0 1284.5 L1948.5 1281.2 L1950.0 1280.3 L1951.5 1278.7 L1953.0 1276.2 L1954.5 1271.6 L1956.0 1267.5 L1957.5 1263.3 L1959.0 1258.2 L1960.5 1256.7 L1962.0 1259.9 L1963.5 1265.2 L1965.0 1267.0 L1966.5 1275.4 L1968.0 1278.0 L1969.5 1279.7 L1971.0 1284.2 L1972.5 1284.6 L1974.0 1286.7 L1975.5 1287.1 L1977.0 1288.4 L1978.5 1286.9 L1980.0 1287.9 L1981.5 1287.4 L1983.0 1288.4 L1984.5 1288.8 L1986.0 1287.8 L1987.5 1286.0 L1989.0 1285.2 L1990.5 1283.1 L1992.0 1284.8 L1993.5 1283.0 L1995.0 1283.3 L1996.5 1281.6 L1998.0 1280.6 L1999.5 1279.7 L2001.0 1277.6 L2002.5 1279.4 L2004.0 1279.0 L2005.5 1277.2 L2007.0 1277.9 L2008.5 1276.6 L2010.0 1274.0 L2011.5 1271.8 L2013.0 1269.4 L2014.5 1269.8 L2016.0 1272.7 L2017.5 1275.6 L2019.0 1278.1 L2020.5 1281.7 L2022.0 1282.8 L2023.5 1284.2 L2025.0 1286.9 L2026.5 1286.8 L2028.0 1286.9 L2029.5 1287.7 L2031.0 1286.3 L2032.5 1288.6 L2034.0 1287.9 L2035.5 1287.1 L2037.0 1288.4 L2038.5 1286.8 L2040.0 1286.6 L2041.5 1287.7 L2043.0 1288.2 L2044.5 1286.4 L2046.0 1285.0 L2047.5 1287.0 L2049.0 1284.6 L2050.5 1282.4 L2052.0 1282.2 L2053.5 1282.4 L2055.0 1280.6 L2056.5 1279.6 L2058.0 1282.9 L2059.5 1282.3 L2061.0 1279.6 L2062.5 1281.7 L2064.0 1281.6 L2065.5 1280.3 L2067.0 1280.9 L2068.5 1280.5 L2070.0 1281.5 L2071.5 1282.6 L2073.0 1281.1 L2074.5 1280.6 L2076.0 1282.3 L2077.5 1280.8 L2079.0 1280.0 L2080.5 1279.5 L2082.0 1277.8 L2083.5 1277.0 L2085.0 1275.4 L2086.5 1273.7 L2088.0 1270.7 L2089.5 1265.0 L2091.0 1263.5 L2092.5 1258.5 L2094.0 1258.9 L2095.5 1258.8 L2097.0 1262.5 L2098.5 1267.2 L2100.0 1271.7 L2101.5 1275.7 L2103.0 1278.8 L2104.5 1283.4 L2106.0 1282.7 L2107.5 1283.4 L2109.0 1283.7 L2110.5 1283.7 L2112.0 1285.1 L2113.5 1284.0 L2115.0 1285.4 L2116.5 1284.9 L2118.0 1285.7 L2119.5 1284.7 L2121.0 1285.4 L2122.5 1287.7 L2124.0 1287.6 L2125.5 1288.3 L2127.0 1287.9 L2128.5 1286.8 L2130.0 1287.6 L2131.5 1287.6 L2133.0 1285.2 L2134.5 1283.4 L2136.0 1284.2 L2137.5 1283.9 L2139.0 1281.8"/></defs>
<g fill="none" stroke="#ff0000" stroke-linejoin="bevel" stroke-linecap="butt"><use href="#c3" stroke-width="11.0" stroke-opacity="0.30"/><use href="#c3" y="-0.3" stroke-width="7.5"/><use href="#c3" y="0.3" stroke-width="7.5"/></g>
</g>
</svg>
<div class="t tick" style="left:414.60px;top:1366.22px;font-size:88px;transform-origin:0 74.38px;transform:scale(1,1.035);"><span class="one">1</span>0</div>
<div class="t tick" style="left:832.60px;top:1366.22px;font-size:88px;transform-origin:0 74.38px;transform:scale(1,1.035);">20</div>
<div class="t tick" style="left:1251.00px;top:1366.22px;font-size:88px;transform-origin:0 74.38px;transform:scale(1,1.035);">30</div>
<div class="t tick" style="left:1667.00px;top:1366.22px;font-size:88px;transform-origin:0 74.38px;transform:scale(1,1.035);">40</div>
<div class="t tick" style="left:2087.60px;top:1366.22px;font-size:88px;transform-origin:0 74.38px;transform:scale(1,1.035);">50</div>
<div class="t xl" style="left:1032.40px;top:1488.82px;font-size:88px;transform-origin:0 74.38px;transform:scale(1,1);word-spacing:-3.5px;"><i style="display:inline-block;transform-origin:0 50%;transform:scaleX(0.965)">2θ</i> / <span style="margin-left:1.6px">deg.</span></div>
<div class="t yl" style="left:101.20px;top:843.32px;font-size:88px;transform-origin:0 74.38px;transform:rotate(-90deg) scale(1,1.02);word-spacing:-1.6px;"><i>Intensity</i> <span style="margin-left:-3px">/</span> a<span style="margin-left:1.3px">.</span>u.</div>
<div class="t b" style="left:1636.00px;top:164.82px;font-size:88px;transform-origin:0 74.38px;transform:scale(1,1.035);"><span class="bone">1</span></div>
<div class="t b" style="left:1636.00px;top:522.62px;font-size:88px;transform-origin:0 74.38px;transform:scale(1,1.035);"><span class="bone">1</span><span class="u">_</span>H<span class="sub">2</span>O</div>
<div class="t b" style="left:1636.00px;top:803.02px;font-size:88px;transform-origin:0 74.38px;transform:scale(1,1.035);"><span class="bone">1</span><span class="u">_</span>H<span class="sub">2</span>O<span class="u">_</span>NH<span class="sub">3</span></div>
<div class="t b" style="left:1636.00px;top:1125.62px;font-size:88px;transform-origin:0 74.38px;transform:scale(1,1.035);">2</div>
</body></html>
